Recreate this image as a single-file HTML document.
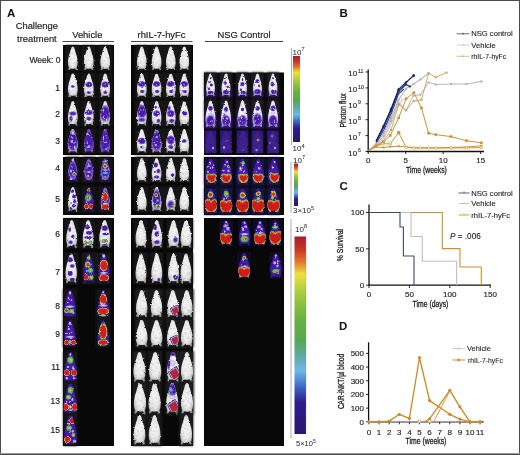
<!DOCTYPE html>
<html><head><meta charset="utf-8"><style>
html,body{margin:0;padding:0;background:#fff;}
body{width:520px;height:455px;position:relative;overflow:hidden;font-family:"Liberation Sans", sans-serif;}
svg text{font-family:"Liberation Sans", sans-serif;}
.frame{position:absolute;left:0;top:0;width:520px;height:455px;box-sizing:border-box;border:1px solid #4a4a4a;}
</style></head><body>
<svg width="520" height="455" viewBox="0 0 520 455" style="position:absolute;left:0;top:0"><defs>
<path id="ms" d="M0,0 C0.9,0 1.6,0.8 1.9,2 C2.4,4 3.4,6.5 4.3,9 C5.1,11.2 5.5,13.5 5.5,16 C5.5,18 5.2,19.6 4.5,20.8 L5.0,23.4 L3.5,23.6 L2.5,21.9 C1.4,22.4 -1.4,22.4 -2.5,21.9 L-3.5,23.6 L-5.0,23.4 L-4.5,20.8 C-5.2,19.6 -5.5,18 -5.5,16 C-5.5,13.5 -5.1,11.2 -4.3,9 C-3.4,6.5 -2.4,4 -1.9,2 C-1.6,0.8 -0.9,0 0,0 Z"/>
<path id="msc" d="M-1.3,0.6 C-0.7,0 0.7,0 1.3,0.6 L3.6,7.5 L5.2,15 L5.6,21.5 C5.6,23.6 -5.6,23.6 -5.6,21.5 L-5.2,15 L-3.6,7.5 Z"/>
<clipPath id="mcc"><path d="M-1.3,0.6 C-0.7,0 0.7,0 1.3,0.6 L3.6,7.5 L5.2,15 L5.6,21.5 C5.6,23.6 -5.6,23.6 -5.6,21.5 L-5.2,15 L-3.6,7.5 Z"/></clipPath>
<path id="hp" vector-effect="non-scaling-stroke" stroke-linejoin="round" d="M0,0.9 C-0.6,0.6 -1,0.2 -1,-0.25 C-1,-0.7 -0.5,-0.9 -0.1,-0.55 L0,-0.42 L0.1,-0.55 C0.5,-0.9 1,-0.7 1,-0.25 C1,0.2 0.6,0.6 0,0.9 Z"/>
<clipPath id="mc"><path d="M0,0 C0.9,0 1.6,0.8 1.9,2 C2.4,4 3.4,6.5 4.3,9 C5.1,11.2 5.5,13.5 5.5,16 C5.5,18 5.2,19.6 4.5,20.8 L5.0,23.4 L3.5,23.6 L2.5,21.9 C1.4,22.4 -1.4,22.4 -2.5,21.9 L-3.5,23.6 L-5.0,23.4 L-4.5,20.8 C-5.2,19.6 -5.5,18 -5.5,16 C-5.5,13.5 -5.1,11.2 -4.3,9 C-3.4,6.5 -2.4,4 -1.9,2 C-1.6,0.8 -0.9,0 0,0 Z"/></clipPath>
<filter id="tex" x="0" y="0" width="520" height="455" filterUnits="userSpaceOnUse">
 <feTurbulence type="fractalNoise" baseFrequency="0.4" numOctaves="2" seed="7" result="n"/>
 <feColorMatrix in="n" type="matrix" values="0.6 0 0 0 0.66  0.6 0 0 0 0.66  0.6 0 0 0 0.66  0 0 0 0 1" result="g"/>
 <feTurbulence type="fractalNoise" baseFrequency="0.45" numOctaves="2" seed="3" result="dn"/>
 <feDisplacementMap in="SourceGraphic" in2="dn" scale="2.2" xChannelSelector="R" yChannelSelector="G" result="d"/>
 <feComposite in="d" in2="g" operator="arithmetic" k1="1" k2="0" k3="0" k4="0" result="c"/>
 <feGaussianBlur in="c" stdDeviation="0.3"/>
</filter>
<filter id="bl" x="0" y="0" width="520" height="455" filterUnits="userSpaceOnUse"><feGaussianBlur stdDeviation="0.9"/></filter>
<radialGradient id="mp" cx="50%" cy="50%" r="60%"><stop offset="0" stop-color="#4a1cae"/><stop offset="0.75" stop-color="#4418a6"/><stop offset="1" stop-color="#34128a"/></radialGradient>
<radialGradient id="mw" cx="50%" cy="45%" r="60%">
 <stop offset="0" stop-color="#f6f6f6"/><stop offset="0.6" stop-color="#ececec"/><stop offset="0.88" stop-color="#cacaca"/><stop offset="1" stop-color="#9a9a9a"/>
</radialGradient>
<radialGradient id="pu"><stop offset="0" stop-color="#4418a8"/><stop offset="0.5" stop-color="#5028b4" stop-opacity="0.9"/><stop offset="0.8" stop-color="#9a80e0" stop-opacity="0.6"/><stop offset="1" stop-color="#d8d0f8" stop-opacity="0"/></radialGradient>
<radialGradient id="ps"><stop offset="0" stop-color="#4a1aac"/><stop offset="0.55" stop-color="#4c1eae"/><stop offset="0.72" stop-color="#6a48c4" stop-opacity="0.95"/><stop offset="0.88" stop-color="#a890e0" stop-opacity="0.7"/><stop offset="1" stop-color="#d8d0f8" stop-opacity="0"/></radialGradient>
<radialGradient id="ht"><stop offset="0" stop-color="#d21e1e"/><stop offset="0.35" stop-color="#dc3020"/><stop offset="0.55" stop-color="#e8c838"/><stop offset="0.7" stop-color="#6cbc48"/><stop offset="0.85" stop-color="#3c8ad8"/><stop offset="1" stop-color="#3a1a96" stop-opacity="0"/></radialGradient>
<radialGradient id="hr"><stop offset="0" stop-color="#d01c1c"/><stop offset="0.7" stop-color="#d82420"/><stop offset="0.82" stop-color="#e89030"/><stop offset="0.9" stop-color="#d8d040"/><stop offset="0.96" stop-color="#50a0d0"/><stop offset="1" stop-color="#3a1a96" stop-opacity="0.2"/></radialGradient>
<radialGradient id="hg"><stop offset="0" stop-color="#e8d040"/><stop offset="0.45" stop-color="#88c040"/><stop offset="0.75" stop-color="#40a870"/><stop offset="1" stop-color="#3a1a96" stop-opacity="0"/></radialGradient>
<radialGradient id="hb"><stop offset="0" stop-color="#80c8f0"/><stop offset="0.6" stop-color="#4890e0"/><stop offset="1" stop-color="#3a1a96" stop-opacity="0"/></radialGradient>
<radialGradient id="lw"><stop offset="0" stop-color="#ece6fc"/><stop offset="0.5" stop-color="#c8b8f0" stop-opacity="0.85"/><stop offset="1" stop-color="#9a80e0" stop-opacity="0"/></radialGradient>
<linearGradient id="cg1" x1="0" y1="0" x2="0" y2="1"><stop offset="0" stop-color="#1e1e1e"/><stop offset="0.6" stop-color="#1e1c24"/><stop offset="1" stop-color="#2c1868"/></linearGradient>
<linearGradient id="cg2" x1="0" y1="0" x2="0" y2="1"><stop offset="0" stop-color="#1e1e1e"/><stop offset="0.4" stop-color="#201c2c"/><stop offset="0.6" stop-color="#2e1878"/><stop offset="1" stop-color="#3a1a90"/></linearGradient>
<linearGradient id="cellp" x1="0" y1="0" x2="0" y2="1"><stop offset="0" stop-color="#321880"/><stop offset="1" stop-color="#361a86"/></linearGradient>
<linearGradient id="cb" x1="0" y1="0" x2="0" y2="1">
 <stop offset="0" stop-color="#a81c2a"/><stop offset="0.07" stop-color="#c83a28"/><stop offset="0.13" stop-color="#e07a30"/><stop offset="0.19" stop-color="#ece040"/>
 <stop offset="0.3" stop-color="#a0c840"/><stop offset="0.42" stop-color="#68b040"/><stop offset="0.52" stop-color="#58a850"/><stop offset="0.6" stop-color="#60a8a0"/>
 <stop offset="0.68" stop-color="#70b8e8"/><stop offset="0.76" stop-color="#4068c8"/><stop offset="0.84" stop-color="#2c1c8c"/><stop offset="1" stop-color="#2a1670"/>
</linearGradient>
</defs><rect x="63" y="45" width="51" height="110" fill="#080808"/><rect x="63" y="157" width="51" height="58" fill="#080808"/><rect x="63" y="218" width="51" height="228" fill="#080808"/><rect x="131" y="45" width="62" height="110" fill="#080808"/><rect x="131" y="157" width="62" height="58" fill="#080808"/><rect x="131" y="218" width="62" height="228" fill="#080808"/><rect x="204" y="72.5" width="80" height="82.5" fill="#080808"/><rect x="204" y="157" width="80" height="58" fill="#080808"/><rect x="204" y="218" width="80" height="228" fill="#080808"/><g filter="url(#bl)"><rect x="65.7" y="45.3" width="14.2" height="26.0" fill="#151515"/><rect x="81.7" y="45.3" width="14.2" height="26.0" fill="#151515"/><rect x="98.1" y="45.3" width="14.2" height="26.0" fill="#151515"/><rect x="65.7" y="72.3" width="14.2" height="26.0" fill="#151515"/><rect x="81.7" y="72.3" width="14.2" height="26.0" fill="#151515"/><rect x="98.1" y="72.3" width="14.2" height="26.0" fill="#151515"/><rect x="65.7" y="99.8" width="14.2" height="27.0" fill="#151515"/><rect x="81.7" y="99.8" width="14.2" height="27.0" fill="#151515"/><rect x="98.1" y="99.8" width="14.2" height="27.0" fill="#151515"/><rect x="65.7" y="127.8" width="14.2" height="26.0" fill="#151515"/><rect x="81.7" y="127.8" width="14.2" height="26.0" fill="#151515"/><rect x="98.1" y="127.8" width="14.2" height="26.0" fill="#151515"/><rect x="65.7" y="156.8" width="14.2" height="26.0" fill="#151515"/><rect x="81.7" y="156.8" width="14.2" height="26.0" fill="#151515"/><rect x="98.1" y="156.8" width="14.2" height="26.0" fill="#151515"/><rect x="65.7" y="185.8" width="14.2" height="26.5" fill="#151515"/><rect x="81.7" y="185.8" width="14.2" height="26.5" fill="#151515"/><rect x="98.1" y="185.8" width="14.2" height="26.5" fill="#151515"/><rect x="64.6" y="218.8" width="14.2" height="30.0" fill="#151515"/><rect x="81.1" y="218.8" width="14.2" height="30.0" fill="#151515"/><rect x="97.6" y="218.8" width="14.2" height="30.0" fill="#151515"/><rect x="64.1" y="252.3" width="14.2" height="32.0" fill="#151515"/><rect x="81.7" y="252.3" width="14.2" height="32.0" fill="#151515"/><rect x="96.7" y="252.3" width="14.2" height="32.0" fill="#151515"/><rect x="62.9" y="288.8" width="14.2" height="29.5" fill="#151515"/><rect x="96.1" y="288.8" width="14.2" height="29.5" fill="#151515"/><rect x="62.9" y="318.8" width="14.2" height="29.0" fill="#151515"/><rect x="96.1" y="318.8" width="14.2" height="29.0" fill="#151515"/><rect x="63.3" y="350.8" width="14.2" height="32.0" fill="#151515"/><rect x="63.3" y="381.8" width="14.2" height="33.0" fill="#151515"/><rect x="63.3" y="413.8" width="14.2" height="32.0" fill="#151515"/><rect x="135.1" y="45.3" width="13.5" height="26.0" fill="#151515"/><rect x="149.8" y="45.3" width="13.5" height="26.0" fill="#151515"/><rect x="164.1" y="45.3" width="13.5" height="26.0" fill="#151515"/><rect x="177.6" y="45.3" width="13.5" height="26.0" fill="#151515"/><rect x="135.1" y="72.3" width="13.5" height="26.0" fill="#151515"/><rect x="149.8" y="72.3" width="13.5" height="26.0" fill="#151515"/><rect x="164.1" y="72.3" width="13.5" height="26.0" fill="#151515"/><rect x="177.6" y="72.3" width="13.5" height="26.0" fill="#151515"/><rect x="135.1" y="99.8" width="13.5" height="27.0" fill="#151515"/><rect x="149.8" y="99.8" width="13.5" height="27.0" fill="#151515"/><rect x="164.1" y="99.8" width="13.5" height="27.0" fill="#151515"/><rect x="177.6" y="99.8" width="13.5" height="27.0" fill="#151515"/><rect x="135.1" y="127.8" width="13.5" height="26.0" fill="#151515"/><rect x="149.8" y="127.8" width="13.5" height="26.0" fill="#151515"/><rect x="164.1" y="127.8" width="13.5" height="26.0" fill="#151515"/><rect x="177.6" y="127.8" width="13.5" height="26.0" fill="#151515"/><rect x="135.1" y="156.8" width="13.5" height="26.0" fill="#151515"/><rect x="149.8" y="156.8" width="13.5" height="26.0" fill="#151515"/><rect x="164.1" y="156.8" width="13.5" height="26.0" fill="#151515"/><rect x="177.6" y="156.8" width="13.5" height="26.0" fill="#151515"/><rect x="135.1" y="185.8" width="13.5" height="26.5" fill="#151515"/><rect x="149.8" y="185.8" width="13.5" height="26.5" fill="#151515"/><rect x="164.1" y="185.8" width="13.5" height="26.5" fill="#151515"/><rect x="177.6" y="185.8" width="13.5" height="26.5" fill="#151515"/><rect x="134.0" y="218.8" width="14.0" height="30.0" fill="#151515"/><rect x="149.8" y="218.8" width="14.0" height="30.0" fill="#151515"/><rect x="166.5" y="218.8" width="14.0" height="30.0" fill="#151515"/><rect x="179.0" y="218.8" width="14.0" height="30.0" fill="#151515"/><rect x="134.0" y="252.3" width="14.0" height="32.0" fill="#151515"/><rect x="149.8" y="252.3" width="14.0" height="32.0" fill="#151515"/><rect x="166.5" y="252.3" width="14.0" height="32.0" fill="#151515"/><rect x="179.0" y="252.3" width="14.0" height="32.0" fill="#151515"/><rect x="134.7" y="288.8" width="14.0" height="29.5" fill="#1c1c1c"/><rect x="149.5" y="288.8" width="14.0" height="29.5" fill="#1c1c1c"/><rect x="165.8" y="288.8" width="14.0" height="29.5" fill="#1c1c1c"/><rect x="179.8" y="288.8" width="14.0" height="29.5" fill="#1c1c1c"/><rect x="134.7" y="318.8" width="14.0" height="29.0" fill="#1c1c1c"/><rect x="149.5" y="318.8" width="14.0" height="29.0" fill="#1c1c1c"/><rect x="165.8" y="318.8" width="14.0" height="29.0" fill="#1c1c1c"/><rect x="179.8" y="318.8" width="14.0" height="29.0" fill="#1c1c1c"/><rect x="132.5" y="350.8" width="14.0" height="32.0" fill="#1c1c1c"/><rect x="148.2" y="350.8" width="14.0" height="32.0" fill="#1c1c1c"/><rect x="166.0" y="350.8" width="14.0" height="32.0" fill="#1c1c1c"/><rect x="180.0" y="350.8" width="14.0" height="32.0" fill="#1c1c1c"/><rect x="133.0" y="381.8" width="14.0" height="33.0" fill="#1c1c1c"/><rect x="147.6" y="381.8" width="14.0" height="33.0" fill="#1c1c1c"/><rect x="165.2" y="381.8" width="14.0" height="33.0" fill="#1c1c1c"/><rect x="180.0" y="381.8" width="14.0" height="33.0" fill="#1c1c1c"/><rect x="132.5" y="413.8" width="14.0" height="32.0" fill="#1c1c1c"/><rect x="147.6" y="413.8" width="14.0" height="32.0" fill="#1c1c1c"/><rect x="179.2" y="413.8" width="14.0" height="32.0" fill="#1c1c1c"/><rect x="204.2" y="72.3" width="12.5" height="25.0" fill="url(#cg1)"/><rect x="204.2" y="99.3" width="12.5" height="29.0" fill="url(#cg2)"/><rect x="219.8" y="72.3" width="12.5" height="25.0" fill="url(#cg1)"/><rect x="219.8" y="99.3" width="12.5" height="29.0" fill="url(#cg2)"/><rect x="236.2" y="72.3" width="12.5" height="25.0" fill="url(#cg1)"/><rect x="236.2" y="99.3" width="12.5" height="29.0" fill="url(#cg2)"/><rect x="251.2" y="72.3" width="12.5" height="25.0" fill="url(#cg1)"/><rect x="251.2" y="99.3" width="12.5" height="29.0" fill="url(#cg2)"/><rect x="266.8" y="72.3" width="12.5" height="25.0" fill="url(#cg1)"/><rect x="266.8" y="99.3" width="12.5" height="29.0" fill="url(#cg2)"/><rect x="204.2" y="157.6" width="13.5" height="28.0" fill="#16123a"/><rect x="204.2" y="187.2" width="13.5" height="27.4" fill="#16123a"/><rect x="219.4" y="157.6" width="13.5" height="28.0" fill="#16123a"/><rect x="219.4" y="187.2" width="13.5" height="27.4" fill="#16123a"/><rect x="235.8" y="157.6" width="13.5" height="28.0" fill="#16123a"/><rect x="235.8" y="187.2" width="13.5" height="27.4" fill="#16123a"/><rect x="251.4" y="157.6" width="13.5" height="28.0" fill="#16123a"/><rect x="251.4" y="187.2" width="13.5" height="27.4" fill="#16123a"/><rect x="266.9" y="157.6" width="13.5" height="28.0" fill="#16123a"/><rect x="266.9" y="187.2" width="13.5" height="27.4" fill="#16123a"/><rect x="219.4" y="219.4" width="13.5" height="27.0" fill="#0e0c22"/><rect x="237.8" y="219.4" width="13.5" height="27.0" fill="#0e0c22"/><rect x="253.2" y="219.4" width="13.5" height="27.0" fill="#0e0c22"/><rect x="268.6" y="219.4" width="13.5" height="27.0" fill="#0e0c22"/><rect x="237.4" y="251.8" width="13.5" height="27.0" fill="#0e0c22"/><rect x="269.1" y="252.3" width="13.5" height="27.0" fill="#0e0c22"/></g><g filter="url(#tex)" ><g transform="translate(72.8,46.5) scale(0.891,1.000)"><use href="#ms" fill="url(#mw)"/></g><g transform="translate(88.8,46.5) scale(0.891,1.000)"><use href="#ms" fill="url(#mw)"/></g><g transform="translate(105.2,46.5) scale(0.891,1.000)"><use href="#ms" fill="url(#mw)"/></g><g transform="translate(72.8,73.5) scale(0.891,1.000)"><use href="#ms" fill="url(#mw)"/><g clip-path="url(#mc)"><ellipse cx="0" cy="13" rx="2.86" ry="1.69" fill="url(#pu)"/></g></g><g transform="translate(88.8,73.5) scale(0.891,1.000)"><use href="#ms" fill="url(#mw)"/><g clip-path="url(#mc)"><ellipse cx="0" cy="11" rx="4.68" ry="3.38" fill="url(#ps)"/><ellipse cx="-2.08" cy="9.54" rx="1.06" ry="1.44" fill="url(#lw)" opacity="0.73"/><ellipse cx="0.50" cy="10.81" rx="0.83" ry="1.12" fill="url(#lw)" opacity="0.69"/><ellipse cx="0.68" cy="10.65" rx="0.83" ry="0.72" fill="url(#lw)" opacity="0.64"/><ellipse cx="0" cy="19" rx="3.25" ry="1.95" fill="url(#pu)"/></g></g><g transform="translate(105.2,73.5) scale(0.891,1.000)"><use href="#ms" fill="url(#mw)"/><g clip-path="url(#mc)"><ellipse cx="0" cy="11" rx="4.94" ry="3.64" fill="url(#ps)"/><ellipse cx="-0.48" cy="10.82" rx="0.65" ry="0.58" fill="url(#lw)" opacity="0.81"/><ellipse cx="0.10" cy="10.23" rx="1.06" ry="0.84" fill="url(#lw)" opacity="0.68"/><ellipse cx="0.35" cy="11.26" rx="1.11" ry="0.94" fill="url(#lw)" opacity="0.50"/><ellipse cx="0" cy="19" rx="3.25" ry="1.95" fill="url(#pu)"/></g></g><g transform="translate(72.8,101) scale(0.891,1.042)"><use href="#ms" fill="url(#mw)"/><g clip-path="url(#mc)"><ellipse cx="0" cy="12" rx="5.85" ry="2.6" fill="url(#pu)"/><ellipse cx="-2" cy="17" rx="2.6" ry="3.9" fill="url(#pu)"/></g></g><g transform="translate(88.8,101) scale(0.891,1.042)"><use href="#ms" fill="url(#mw)"/><g clip-path="url(#mc)"><ellipse cx="0" cy="11" rx="5.85" ry="2.86" fill="url(#ps)"/><ellipse cx="4.13" cy="10.78" rx="0.70" ry="0.96" fill="url(#lw)" opacity="0.64"/><ellipse cx="-0.62" cy="10.37" rx="1.16" ry="1.37" fill="url(#lw)" opacity="0.83"/><ellipse cx="1.42" cy="10.45" rx="0.75" ry="0.61" fill="url(#lw)" opacity="0.47"/><ellipse cx="0" cy="17" rx="3.9" ry="2.6" fill="url(#pu)"/></g></g><g transform="translate(105.2,101) scale(0.891,1.042)"><use href="#ms" fill="url(#mw)"/><g clip-path="url(#mc)"><ellipse cx="0" cy="12" rx="7.15" ry="9.1" fill="url(#ps)"/><ellipse cx="2.04" cy="13.13" rx="0.92" ry="0.65" fill="url(#lw)" opacity="0.71"/><ellipse cx="-1.19" cy="14.46" rx="1.07" ry="1.11" fill="url(#lw)" opacity="0.54"/><ellipse cx="-4.21" cy="12.64" rx="0.54" ry="0.75" fill="url(#lw)" opacity="0.41"/><ellipse cx="-0.01" cy="5.71" rx="0.51" ry="0.64" fill="url(#lw)" opacity="0.56"/><ellipse cx="-0.67" cy="11.54" rx="0.53" ry="0.44" fill="url(#lw)" opacity="0.83"/><ellipse cx="1.48" cy="17.40" rx="1.15" ry="1.56" fill="url(#lw)" opacity="0.55"/><ellipse cx="-2.04" cy="15.36" rx="1.04" ry="0.81" fill="url(#lw)" opacity="0.74"/><ellipse cx="1.47" cy="5.89" rx="0.53" ry="0.72" fill="url(#lw)" opacity="0.44"/><ellipse cx="-2.04" cy="16.04" rx="1.14" ry="1.07" fill="url(#lw)" opacity="0.82"/><ellipse cx="-2.19" cy="11.19" rx="0.72" ry="0.59" fill="url(#lw)" opacity="0.44"/><ellipse cx="2.47" cy="16.27" rx="1.20" ry="0.97" fill="url(#lw)" opacity="0.42"/><ellipse cx="3.37" cy="11.64" rx="0.78" ry="0.68" fill="url(#lw)" opacity="0.67"/><ellipse cx="1.38" cy="8.62" rx="0.80" ry="0.59" fill="url(#lw)" opacity="0.81"/><ellipse cx="-2" cy="9" rx="1.5" ry="1.5" fill="url(#lw)"/><ellipse cx="1.5" cy="18" rx="1.5" ry="1.5" fill="url(#lw)"/></g></g><g transform="translate(72.8,129) scale(0.891,1.000)"><use href="#ms" fill="url(#mw)"/><g clip-path="url(#mc)"><ellipse cx="0" cy="12" rx="7.15" ry="12.35" fill="url(#ps)"/><ellipse cx="3.12" cy="13.12" rx="1.09" ry="0.86" fill="url(#lw)" opacity="0.73"/><ellipse cx="3.68" cy="9.93" rx="1.05" ry="0.81" fill="url(#lw)" opacity="0.60"/><ellipse cx="2.92" cy="18.88" rx="0.71" ry="0.72" fill="url(#lw)" opacity="0.85"/><ellipse cx="3.35" cy="4.26" rx="0.82" ry="0.85" fill="url(#lw)" opacity="0.73"/><ellipse cx="-2.15" cy="12.49" rx="0.78" ry="0.63" fill="url(#lw)" opacity="0.57"/><ellipse cx="5.50" cy="11.30" rx="0.94" ry="0.99" fill="url(#lw)" opacity="0.55"/><ellipse cx="1.76" cy="13.91" rx="1.05" ry="1.37" fill="url(#lw)" opacity="0.56"/><ellipse cx="1.03" cy="4.27" rx="0.99" ry="1.15" fill="url(#lw)" opacity="0.74"/><ellipse cx="-2.77" cy="17.54" rx="0.70" ry="0.72" fill="url(#lw)" opacity="0.75"/><ellipse cx="-0.79" cy="8.48" rx="1.16" ry="1.34" fill="url(#lw)" opacity="0.66"/><ellipse cx="3.44" cy="12.43" rx="0.68" ry="0.79" fill="url(#lw)" opacity="0.61"/><ellipse cx="1.61" cy="5.76" rx="1.06" ry="1.00" fill="url(#lw)" opacity="0.69"/><ellipse cx="-0.37" cy="3.63" rx="0.75" ry="0.96" fill="url(#lw)" opacity="0.79"/><ellipse cx="-2.12" cy="3.04" rx="1.17" ry="1.24" fill="url(#lw)" opacity="0.64"/><ellipse cx="2.46" cy="19.32" rx="1.16" ry="1.20" fill="url(#lw)" opacity="0.71"/><ellipse cx="-0.83" cy="4.59" rx="0.62" ry="0.77" fill="url(#lw)" opacity="0.66"/><ellipse cx="-1.43" cy="7.80" rx="0.94" ry="1.16" fill="url(#lw)" opacity="0.69"/><ellipse cx="0" cy="4" rx="2" ry="2.5" fill="url(#lw)"/><ellipse cx="-1" cy="12" rx="2" ry="1.5" fill="url(#lw)"/><ellipse cx="2" cy="18" rx="1.5" ry="2" fill="url(#lw)"/></g></g><g transform="translate(88.8,129) scale(0.891,1.000)"><use href="#ms" fill="url(#mp)"/><g clip-path="url(#mc)"><ellipse cx="0.63" cy="7.28" rx="1.04" ry="0.73" fill="url(#lw)"/><ellipse cx="-3.25" cy="11.38" rx="0.73" ry="0.82" fill="url(#lw)"/><ellipse cx="-2.57" cy="8.71" rx="0.61" ry="0.51" fill="url(#lw)"/><ellipse cx="-3.21" cy="11.49" rx="0.64" ry="0.47" fill="url(#lw)"/><ellipse cx="1.05" cy="6.94" rx="0.91" ry="1.04" fill="url(#lw)"/><ellipse cx="1.54" cy="3.5" rx="0.6" ry="0.6" fill="url(#lw)"/><ellipse cx="0" cy="12" rx="7.15" ry="14.3" fill="url(#ps)"/><ellipse cx="-1.75" cy="14.36" rx="0.79" ry="0.61" fill="url(#lw)" opacity="0.77"/><ellipse cx="-0.63" cy="13.28" rx="0.93" ry="0.71" fill="url(#lw)" opacity="0.65"/><ellipse cx="-1.93" cy="18.13" rx="1.17" ry="1.49" fill="url(#lw)" opacity="0.59"/><ellipse cx="1.51" cy="4.75" rx="0.76" ry="0.61" fill="url(#lw)" opacity="0.67"/><ellipse cx="-5.07" cy="7.70" rx="1.18" ry="1.33" fill="url(#lw)" opacity="0.56"/><ellipse cx="0.56" cy="11.11" rx="0.58" ry="0.63" fill="url(#lw)" opacity="0.68"/><ellipse cx="2.45" cy="17.98" rx="1.12" ry="1.08" fill="url(#lw)" opacity="0.59"/><ellipse cx="0.32" cy="16.30" rx="1.18" ry="1.14" fill="url(#lw)" opacity="0.83"/><ellipse cx="3.17" cy="8.19" rx="0.68" ry="0.95" fill="url(#lw)" opacity="0.62"/><ellipse cx="-1.99" cy="14.34" rx="1.19" ry="1.24" fill="url(#lw)" opacity="0.53"/><ellipse cx="-1.31" cy="12.38" rx="0.94" ry="0.94" fill="url(#lw)" opacity="0.53"/><ellipse cx="0.96" cy="2.49" rx="0.51" ry="0.55" fill="url(#lw)" opacity="0.52"/><ellipse cx="4.25" cy="8.34" rx="0.67" ry="0.60" fill="url(#lw)" opacity="0.47"/><ellipse cx="2.18" cy="11.69" rx="0.93" ry="0.96" fill="url(#lw)" opacity="0.69"/><ellipse cx="-3.52" cy="6.61" rx="0.58" ry="0.72" fill="url(#lw)" opacity="0.54"/><ellipse cx="-2.34" cy="11.00" rx="0.71" ry="0.76" fill="url(#lw)" opacity="0.61"/><ellipse cx="-2.85" cy="18.81" rx="0.91" ry="0.66" fill="url(#lw)" opacity="0.51"/><ellipse cx="-5.10" cy="14.92" rx="1.12" ry="1.21" fill="url(#lw)" opacity="0.41"/><ellipse cx="0.51" cy="6.38" rx="0.90" ry="1.08" fill="url(#lw)" opacity="0.68"/><ellipse cx="-5.24" cy="13.20" rx="0.77" ry="0.75" fill="url(#lw)" opacity="0.78"/><ellipse cx="-2" cy="5" rx="1.5" ry="2" fill="url(#lw)"/><ellipse cx="0" cy="18" rx="2" ry="1.2" fill="url(#lw)"/></g></g><g transform="translate(105.2,129) scale(0.891,1.000)"><use href="#ms" fill="url(#mp)"/><g clip-path="url(#mc)"><ellipse cx="2.24" cy="17.25" rx="0.9" ry="0.64" fill="url(#lw)"/><ellipse cx="0.6" cy="17.61" rx="0.54" ry="0.47" fill="url(#lw)"/><ellipse cx="0.34" cy="11.96" rx="0.7" ry="0.56" fill="url(#lw)"/><ellipse cx="1.97" cy="19.39" rx="0.59" ry="0.61" fill="url(#lw)"/><ellipse cx="2.35" cy="15.5" rx="0.76" ry="0.68" fill="url(#lw)"/><ellipse cx="-2.12" cy="8.34" rx="1.0" ry="0.74" fill="url(#lw)"/><ellipse cx="0" cy="12" rx="7.15" ry="14.3" fill="url(#ps)"/><ellipse cx="-0.96" cy="0.94" rx="1.20" ry="1.43" fill="url(#lw)" opacity="0.42"/><ellipse cx="0.99" cy="8.96" rx="0.95" ry="1.30" fill="url(#lw)" opacity="0.72"/><ellipse cx="1.44" cy="15.26" rx="1.14" ry="0.92" fill="url(#lw)" opacity="0.67"/><ellipse cx="-1.30" cy="13.57" rx="0.94" ry="0.68" fill="url(#lw)" opacity="0.45"/><ellipse cx="-0.78" cy="13.48" rx="0.54" ry="0.60" fill="url(#lw)" opacity="0.73"/><ellipse cx="1.00" cy="10.08" rx="0.80" ry="0.74" fill="url(#lw)" opacity="0.67"/><ellipse cx="-5.40" cy="12.71" rx="0.76" ry="0.56" fill="url(#lw)" opacity="0.71"/><ellipse cx="2.26" cy="18.30" rx="0.85" ry="1.14" fill="url(#lw)" opacity="0.65"/><ellipse cx="-1.47" cy="9.20" rx="0.89" ry="0.78" fill="url(#lw)" opacity="0.74"/><ellipse cx="-1.38" cy="11.71" rx="0.66" ry="0.64" fill="url(#lw)" opacity="0.73"/><ellipse cx="1.84" cy="19.74" rx="0.96" ry="0.73" fill="url(#lw)" opacity="0.70"/><ellipse cx="1.13" cy="13.45" rx="0.92" ry="0.79" fill="url(#lw)" opacity="0.79"/><ellipse cx="-2.32" cy="12.57" rx="1.06" ry="0.76" fill="url(#lw)" opacity="0.73"/><ellipse cx="1.39" cy="12.97" rx="1.17" ry="1.37" fill="url(#lw)" opacity="0.50"/><ellipse cx="4.16" cy="19.44" rx="0.97" ry="1.23" fill="url(#lw)" opacity="0.46"/><ellipse cx="-1.76" cy="8.49" rx="0.66" ry="0.62" fill="url(#lw)" opacity="0.68"/><ellipse cx="-1.54" cy="16.31" rx="0.60" ry="0.76" fill="url(#lw)" opacity="0.69"/><ellipse cx="0.97" cy="6.57" rx="1.10" ry="1.16" fill="url(#lw)" opacity="0.67"/><ellipse cx="-3.96" cy="8.07" rx="0.78" ry="0.60" fill="url(#lw)" opacity="0.41"/><ellipse cx="0.27" cy="13.74" rx="1.12" ry="1.16" fill="url(#lw)" opacity="0.74"/><ellipse cx="-2" cy="9" rx="1" ry="3" fill="url(#lw)"/><ellipse cx="1" cy="20" rx="2" ry="1" fill="url(#lw)"/></g></g><g transform="translate(72.8,158) scale(0.891,1.000)"><use href="#ms" fill="url(#mp)"/><g clip-path="url(#mc)"><ellipse cx="2.97" cy="9.64" rx="1.06" ry="1.26" fill="url(#lw)"/><ellipse cx="-1.49" cy="7.23" rx="0.79" ry="0.57" fill="url(#lw)"/><ellipse cx="-2.44" cy="7.57" rx="0.67" ry="0.54" fill="url(#lw)"/><ellipse cx="-2.39" cy="9.74" rx="0.73" ry="0.96" fill="url(#lw)"/><ellipse cx="-0.5" cy="11.38" rx="0.56" ry="0.45" fill="url(#lw)"/><ellipse cx="-3.5" cy="11.46" rx="1.03" ry="1.17" fill="url(#lw)"/><ellipse cx="0" cy="12" rx="5.5" ry="10" fill="url(#ps)"/><ellipse cx="-1.09" cy="8.18" rx="1.16" ry="0.91" fill="url(#lw)" opacity="0.70"/><ellipse cx="-0.80" cy="17.53" rx="1.01" ry="0.82" fill="url(#lw)" opacity="0.49"/><ellipse cx="1.42" cy="12.41" rx="0.55" ry="0.54" fill="url(#lw)" opacity="0.84"/><ellipse cx="-1.15" cy="14.40" rx="0.83" ry="0.74" fill="url(#lw)" opacity="0.73"/><ellipse cx="-0.24" cy="9.90" rx="0.67" ry="0.78" fill="url(#lw)" opacity="0.82"/><ellipse cx="-1.34" cy="8.81" rx="1.18" ry="0.83" fill="url(#lw)" opacity="0.43"/><ellipse cx="0.39" cy="8.19" rx="0.53" ry="0.58" fill="url(#lw)" opacity="0.85"/><ellipse cx="-1.88" cy="11.59" rx="0.57" ry="0.42" fill="url(#lw)" opacity="0.80"/><ellipse cx="-4.15" cy="12.42" rx="0.54" ry="0.47" fill="url(#lw)" opacity="0.42"/><ellipse cx="-0.62" cy="12.85" rx="0.68" ry="0.67" fill="url(#lw)" opacity="0.54"/><ellipse cx="0.66" cy="12.40" rx="1.18" ry="0.97" fill="url(#lw)" opacity="0.63"/><ellipse cx="0" cy="2" rx="2" ry="2" fill="url(#lw)"/><ellipse cx="-2" cy="13" rx="1.5" ry="2" fill="url(#lw)"/><ellipse cx="1.5" cy="16" rx="2.5" ry="2.5" fill="url(#ht)"/><ellipse cx="-2" cy="21" rx="2" ry="1.5" fill="url(#lw)"/></g></g><g transform="translate(88.8,158) scale(0.891,1.000)"><use href="#ms" fill="url(#mp)"/><g clip-path="url(#mc)"><ellipse cx="2.28" cy="7.03" rx="0.57" ry="0.52" fill="url(#lw)"/><ellipse cx="1.58" cy="19.43" rx="0.68" ry="0.69" fill="url(#lw)"/><ellipse cx="-0.09" cy="13.29" rx="0.73" ry="0.83" fill="url(#lw)"/><ellipse cx="2.5" cy="6.86" rx="0.51" ry="0.55" fill="url(#lw)"/><ellipse cx="-2.74" cy="12.75" rx="1.05" ry="1.18" fill="url(#lw)"/><ellipse cx="-0.68" cy="12.56" rx="0.55" ry="0.51" fill="url(#lw)"/><ellipse cx="0" cy="12" rx="5.5" ry="11" fill="url(#ps)"/><ellipse cx="3.00" cy="15.69" rx="1.07" ry="0.99" fill="url(#lw)" opacity="0.46"/><ellipse cx="1.30" cy="13.47" rx="0.56" ry="0.56" fill="url(#lw)" opacity="0.66"/><ellipse cx="0.02" cy="13.57" rx="0.99" ry="0.73" fill="url(#lw)" opacity="0.49"/><ellipse cx="-0.45" cy="15.88" rx="0.57" ry="0.57" fill="url(#lw)" opacity="0.54"/><ellipse cx="0.04" cy="6.62" rx="1.13" ry="1.31" fill="url(#lw)" opacity="0.74"/><ellipse cx="-2.01" cy="9.96" rx="1.07" ry="1.24" fill="url(#lw)" opacity="0.83"/><ellipse cx="-0.45" cy="5.56" rx="0.69" ry="0.87" fill="url(#lw)" opacity="0.57"/><ellipse cx="0.55" cy="13.17" rx="0.62" ry="0.55" fill="url(#lw)" opacity="0.70"/><ellipse cx="-0.18" cy="13.55" rx="1.03" ry="1.13" fill="url(#lw)" opacity="0.41"/><ellipse cx="1.00" cy="12.66" rx="0.75" ry="0.98" fill="url(#lw)" opacity="0.83"/><ellipse cx="-1.10" cy="10.14" rx="0.80" ry="0.76" fill="url(#lw)" opacity="0.55"/><ellipse cx="2.79" cy="12.44" rx="1.08" ry="1.30" fill="url(#lw)" opacity="0.44"/><ellipse cx="0" cy="8" rx="4" ry="1" fill="url(#lw)"/><ellipse cx="0" cy="14" rx="4" ry="1" fill="url(#lw)"/><ellipse cx="-1" cy="18" rx="1.5" ry="1.5" fill="url(#ht)"/><ellipse cx="2" cy="20" rx="1.5" ry="1.5" fill="url(#ht)"/></g></g><g transform="translate(105.2,158) scale(0.891,1.000)"><use href="#ms" fill="url(#mp)"/><g clip-path="url(#mc)"><ellipse cx="-3.13" cy="20.6" rx="0.52" ry="0.57" fill="url(#lw)"/><ellipse cx="0.67" cy="4.86" rx="0.99" ry="0.98" fill="url(#lw)"/><ellipse cx="1.87" cy="19.85" rx="0.82" ry="1.13" fill="url(#lw)"/><ellipse cx="2.9" cy="11.3" rx="0.76" ry="0.77" fill="url(#lw)"/><ellipse cx="3.07" cy="17.31" rx="0.57" ry="0.53" fill="url(#lw)"/><ellipse cx="0.21" cy="6.08" rx="0.93" ry="0.94" fill="url(#lw)"/><ellipse cx="0" cy="12" rx="5.5" ry="11" fill="url(#ps)"/><ellipse cx="-3.92" cy="12.89" rx="0.77" ry="0.66" fill="url(#lw)" opacity="0.52"/><ellipse cx="0.82" cy="17.18" rx="0.75" ry="0.92" fill="url(#lw)" opacity="0.51"/><ellipse cx="-0.90" cy="14.42" rx="1.19" ry="1.53" fill="url(#lw)" opacity="0.78"/><ellipse cx="-1.54" cy="9.17" rx="0.60" ry="0.77" fill="url(#lw)" opacity="0.62"/><ellipse cx="1.17" cy="12.57" rx="0.57" ry="0.68" fill="url(#lw)" opacity="0.81"/><ellipse cx="1.13" cy="18.87" rx="0.73" ry="0.86" fill="url(#lw)" opacity="0.79"/><ellipse cx="-2.60" cy="6.93" rx="0.76" ry="0.54" fill="url(#lw)" opacity="0.63"/><ellipse cx="-1.08" cy="10.69" rx="0.77" ry="0.71" fill="url(#lw)" opacity="0.41"/><ellipse cx="-0.77" cy="15.74" rx="0.83" ry="0.99" fill="url(#lw)" opacity="0.58"/><ellipse cx="3.67" cy="11.18" rx="1.15" ry="1.36" fill="url(#lw)" opacity="0.70"/><ellipse cx="-3.53" cy="10.34" rx="0.75" ry="0.84" fill="url(#lw)" opacity="0.71"/><ellipse cx="-1.63" cy="11.54" rx="0.55" ry="0.42" fill="url(#lw)" opacity="0.56"/><ellipse cx="0" cy="8" rx="3" ry="3.2" fill="url(#ht)"/><ellipse cx="0" cy="3" rx="2" ry="1.5" fill="url(#lw)"/><ellipse cx="0" cy="15" rx="5" ry="1.5" fill="url(#hb)"/><ellipse cx="0" cy="12" rx="4" ry="1" fill="url(#lw)"/><ellipse cx="0" cy="19" rx="2" ry="1" fill="url(#hg)"/></g></g><g transform="translate(72.8,187) scale(0.891,1.021)"><use href="#ms" fill="url(#mw)"/><g clip-path="url(#mc)"><ellipse cx="0" cy="4" rx="2" ry="2" fill="url(#ps)"/><ellipse cx="1.5" cy="9" rx="3" ry="2.5" fill="url(#ps)"/><ellipse cx="-0.16" cy="8.24" rx="1.00" ry="0.91" fill="url(#lw)" opacity="0.82"/><ellipse cx="2" cy="14" rx="2.5" ry="3" fill="url(#pu)"/><ellipse cx="1" cy="18.5" rx="2.5" ry="2" fill="url(#ps)"/><ellipse cx="-2" cy="21" rx="2" ry="1.5" fill="url(#pu)"/><ellipse cx="-2" cy="16" rx="1.2" ry="1.2" fill="url(#hg)"/></g></g><g transform="translate(88.8,187) scale(0.891,1.021)"><use href="#ms" fill="url(#mp)"/><g clip-path="url(#mc)"><ellipse cx="-2.25" cy="14.76" rx="1.04" ry="1.39" fill="url(#lw)"/><ellipse cx="0.31" cy="10.08" rx="0.5" ry="0.49" fill="url(#lw)"/><ellipse cx="0.12" cy="19.13" rx="0.64" ry="0.89" fill="url(#lw)"/><ellipse cx="2.37" cy="16.3" rx="0.87" ry="0.73" fill="url(#lw)"/><ellipse cx="1.19" cy="20.22" rx="1.04" ry="1.23" fill="url(#lw)"/><ellipse cx="-1.58" cy="15.89" rx="0.54" ry="0.67" fill="url(#lw)"/><ellipse cx="0" cy="3" rx="2.2" ry="2.2" fill="url(#ht)"/><ellipse cx="-0.5" cy="10.5" rx="4.4" ry="4.4" fill="url(#hg)"/><ellipse cx="-0.5" cy="10.5" rx="2.6" ry="2.6" fill="url(#ht)"/><ellipse cx="-2.5" cy="19" rx="2.8" ry="2.6" fill="url(#hr)"/><ellipse cx="2.5" cy="19" rx="2.8" ry="2.6" fill="url(#hr)"/></g></g><g transform="translate(105.2,187) scale(0.891,1.021)"><use href="#ms" fill="url(#mp)"/><g clip-path="url(#mc)"><ellipse cx="2.65" cy="16.1" rx="0.75" ry="0.75" fill="url(#lw)"/><ellipse cx="-1.93" cy="4.13" rx="0.84" ry="1.08" fill="url(#lw)"/><ellipse cx="2.78" cy="6.01" rx="0.88" ry="1.09" fill="url(#lw)"/><ellipse cx="-2.01" cy="8.5" rx="0.66" ry="0.75" fill="url(#lw)"/><ellipse cx="0.37" cy="15.87" rx="0.72" ry="0.96" fill="url(#lw)"/><ellipse cx="0.79" cy="9.96" rx="0.57" ry="0.67" fill="url(#lw)"/><ellipse cx="0" cy="12" rx="5.5" ry="11.5" fill="url(#ps)"/><ellipse cx="-3.97" cy="10.48" rx="0.71" ry="0.64" fill="url(#lw)" opacity="0.67"/><ellipse cx="1.24" cy="11.45" rx="0.52" ry="0.41" fill="url(#lw)" opacity="0.65"/><ellipse cx="-1.00" cy="10.41" rx="0.63" ry="0.71" fill="url(#lw)" opacity="0.69"/><ellipse cx="-1.23" cy="5.47" rx="0.54" ry="0.56" fill="url(#lw)" opacity="0.78"/><ellipse cx="1.71" cy="11.01" rx="1.10" ry="1.26" fill="url(#lw)" opacity="0.82"/><ellipse cx="0.42" cy="18.70" rx="1.09" ry="1.13" fill="url(#lw)" opacity="0.45"/><ellipse cx="0.40" cy="14.26" rx="0.56" ry="0.46" fill="url(#lw)" opacity="0.68"/><ellipse cx="2.74" cy="16.44" rx="1.02" ry="1.29" fill="url(#lw)" opacity="0.76"/><ellipse cx="-0.94" cy="3.64" rx="1.17" ry="1.33" fill="url(#lw)" opacity="0.83"/><ellipse cx="0.75" cy="13.20" rx="0.55" ry="0.46" fill="url(#lw)" opacity="0.57"/><ellipse cx="-3.06" cy="13.70" rx="1.02" ry="0.77" fill="url(#lw)" opacity="0.58"/><ellipse cx="-1.92" cy="10.88" rx="0.58" ry="0.65" fill="url(#lw)" opacity="0.57"/><ellipse cx="0" cy="10" rx="3.5" ry="5" fill="url(#hr)"/><ellipse cx="0" cy="16" rx="4" ry="1" fill="url(#lw)"/><ellipse cx="0" cy="19.5" rx="5.4" ry="2.8" fill="url(#hr)"/></g></g><g transform="translate(71.7,220) scale(1.000,1.167)"><use href="#ms" fill="url(#mw)"/><g clip-path="url(#mc)"><ellipse cx="-2" cy="8" rx="2" ry="3" fill="url(#pu)"/><ellipse cx="1" cy="14" rx="2.5" ry="2" fill="url(#pu)"/><ellipse cx="-1" cy="19" rx="3" ry="2" fill="url(#pu)"/><ellipse cx="2" cy="22" rx="2" ry="1.5" fill="url(#pu)"/></g></g><g transform="translate(88.2,220) scale(1.000,1.167)"><use href="#ms" fill="url(#mw)"/><g clip-path="url(#mc)"><ellipse cx="-1" cy="6" rx="3" ry="2.5" fill="url(#ps)"/><ellipse cx="-1.54" cy="4.98" rx="1.17" ry="1.60" fill="url(#lw)" opacity="0.43"/><ellipse cx="1" cy="11" rx="4" ry="2" fill="url(#ps)"/><ellipse cx="1.15" cy="9.79" rx="0.71" ry="0.55" fill="url(#lw)" opacity="0.62"/><ellipse cx="0" cy="15" rx="5" ry="1.5" fill="url(#ps)"/><ellipse cx="-1.87" cy="15.73" rx="1.14" ry="1.11" fill="url(#lw)" opacity="0.53"/><ellipse cx="-2.5" cy="19.5" rx="2.2" ry="2.2" fill="url(#ht)"/><ellipse cx="2" cy="19.5" rx="2.2" ry="2.2" fill="url(#hg)"/><ellipse cx="0" cy="22.5" rx="4" ry="1.5" fill="url(#pu)"/></g></g><g transform="translate(104.7,220) scale(1.000,1.167)"><use href="#ms" fill="url(#mw)"/><g clip-path="url(#mc)"><ellipse cx="0" cy="7" rx="4" ry="3" fill="url(#ps)"/><ellipse cx="-2.35" cy="7.01" rx="1.05" ry="1.16" fill="url(#lw)" opacity="0.53"/><ellipse cx="-1.44" cy="8.78" rx="0.86" ry="0.63" fill="url(#lw)" opacity="0.59"/><ellipse cx="1" cy="12" rx="4" ry="1.5" fill="url(#ps)"/><ellipse cx="0" cy="18" rx="3.5" ry="2.2" fill="url(#hg)"/><ellipse cx="1" cy="18" rx="1.5" ry="1.2" fill="url(#ht)"/><ellipse cx="0" cy="21.5" rx="4" ry="1.5" fill="url(#pu)"/></g></g><g transform="translate(71.2,253.5) scale(1.045,1.250)"><use href="#ms" fill="url(#mw)"/><g clip-path="url(#mc)"><ellipse cx="-1" cy="5" rx="3" ry="2.5" fill="url(#ps)"/><ellipse cx="-0.87" cy="6.41" rx="0.55" ry="0.49" fill="url(#lw)" opacity="0.44"/><ellipse cx="1" cy="10" rx="3" ry="2" fill="url(#pu)"/><ellipse cx="-1" cy="16" rx="3" ry="2.5" fill="url(#ps)"/><ellipse cx="-3.34" cy="16.28" rx="0.88" ry="0.85" fill="url(#lw)" opacity="0.82"/><ellipse cx="1" cy="21" rx="3" ry="2" fill="url(#ps)"/></g></g><g transform="translate(88.8,253.5) scale(1.045,1.250)"><use href="#ms" fill="url(#mp)"/><g clip-path="url(#mc)"><ellipse cx="0.05" cy="3.95" rx="0.74" ry="0.92" fill="url(#lw)"/><ellipse cx="-2.9" cy="8.02" rx="1.07" ry="1.27" fill="url(#lw)"/><ellipse cx="-1.97" cy="20.54" rx="0.77" ry="0.79" fill="url(#lw)"/><ellipse cx="-0.29" cy="9.89" rx="0.81" ry="0.6" fill="url(#lw)"/><ellipse cx="1.86" cy="9.5" rx="0.51" ry="0.45" fill="url(#lw)"/><ellipse cx="-2.86" cy="9.4" rx="0.99" ry="0.69" fill="url(#lw)"/><ellipse cx="0" cy="3.5" rx="2" ry="2" fill="url(#hg)"/><ellipse cx="-1" cy="9" rx="3.2" ry="3.2" fill="url(#ht)"/><ellipse cx="1.5" cy="13.5" rx="3" ry="2.5" fill="url(#hg)"/><ellipse cx="-2" cy="14" rx="1.5" ry="1.5" fill="url(#hb)"/><ellipse cx="-2.5" cy="19" rx="2.6" ry="2.6" fill="url(#hr)"/><ellipse cx="2.5" cy="19" rx="2.6" ry="2.6" fill="url(#hg)"/></g></g><g transform="translate(103.8,253.5) scale(1.045,1.250)"><use href="#ms" fill="url(#mp)"/><g clip-path="url(#mc)"><ellipse cx="3.46" cy="6.9" rx="0.75" ry="0.67" fill="url(#lw)"/><ellipse cx="-2.46" cy="17.06" rx="0.75" ry="1.04" fill="url(#lw)"/><ellipse cx="-0.85" cy="20.98" rx="0.95" ry="1.26" fill="url(#lw)"/><ellipse cx="-0.61" cy="18.74" rx="1.0" ry="1.33" fill="url(#lw)"/><ellipse cx="0.95" cy="3.65" rx="0.51" ry="0.64" fill="url(#lw)"/><ellipse cx="-0.46" cy="13.68" rx="1.04" ry="1.2" fill="url(#lw)"/><ellipse cx="0" cy="2" rx="2" ry="2" fill="url(#lw)"/><ellipse cx="0" cy="9.5" rx="4.2" ry="4.8" fill="url(#hr)"/><ellipse cx="0" cy="15.5" rx="4.5" ry="1.2" fill="url(#lw)"/><ellipse cx="0" cy="19.5" rx="5.5" ry="3" fill="url(#hr)"/></g></g><g transform="translate(70,290) scale(1.091,1.146)"><use href="#msc" fill="url(#mp)"/><g clip-path="url(#mcc)"><ellipse cx="-2.21" cy="10.72" rx="0.66" ry="0.81" fill="url(#lw)"/><ellipse cx="-1.84" cy="19.56" rx="1.06" ry="0.77" fill="url(#lw)"/><ellipse cx="2.3" cy="20.29" rx="0.86" ry="0.68" fill="url(#lw)"/><ellipse cx="2.78" cy="18.94" rx="0.62" ry="0.44" fill="url(#lw)"/><ellipse cx="-2.32" cy="11.24" rx="0.54" ry="0.53" fill="url(#lw)"/><ellipse cx="-0.21" cy="8.16" rx="0.9" ry="0.71" fill="url(#lw)"/><ellipse cx="0" cy="2.5" rx="1.5" ry="2" fill="url(#lw)"/><ellipse cx="-1.5" cy="7" rx="1" ry="1.2" fill="url(#lw)"/><ellipse cx="1.5" cy="9" rx="1.2" ry="1.2" fill="url(#lw)"/><ellipse cx="-2" cy="11" rx="1" ry="1" fill="url(#lw)"/><ellipse cx="0" cy="14.5" rx="5" ry="1.5" fill="url(#lw)"/><ellipse cx="-3.2" cy="18" rx="2.8" ry="2.6" fill="url(#ht)"/><ellipse cx="1.5" cy="18.5" rx="2.8" ry="2.4" fill="url(#hg)"/><ellipse cx="3.5" cy="20" rx="1" ry="1" fill="url(#lw)"/></g></g><g transform="translate(103.2,290) scale(1.091,1.146)"><use href="#msc" fill="url(#mp)"/><g clip-path="url(#mcc)"><ellipse cx="-0.13" cy="15.7" rx="0.5" ry="0.63" fill="url(#lw)"/><ellipse cx="-1.66" cy="12.82" rx="0.94" ry="0.75" fill="url(#lw)"/><ellipse cx="0.57" cy="20.39" rx="0.64" ry="0.71" fill="url(#lw)"/><ellipse cx="1.0" cy="9.75" rx="0.72" ry="0.75" fill="url(#lw)"/><ellipse cx="3.32" cy="15.64" rx="0.55" ry="0.43" fill="url(#lw)"/><ellipse cx="-0.89" cy="16.95" rx="0.59" ry="0.63" fill="url(#lw)"/><ellipse cx="0" cy="2" rx="1.2" ry="1.5" fill="url(#lw)"/><ellipse cx="0" cy="8" rx="3.5" ry="5" fill="url(#hr)"/><ellipse cx="0" cy="13.5" rx="5" ry="1.5" fill="url(#lw)"/><ellipse cx="0" cy="18.5" rx="5.8" ry="3.2" fill="url(#hr)"/><ellipse cx="0" cy="22.5" rx="5" ry="1" fill="url(#hg)"/></g></g><g transform="translate(70,320) scale(1.091,1.125)"><use href="#msc" fill="url(#mp)"/><g clip-path="url(#mcc)"><ellipse cx="-1.39" cy="6.0" rx="1.06" ry="0.8" fill="url(#lw)"/><ellipse cx="1.49" cy="19.87" rx="1.07" ry="1.49" fill="url(#lw)"/><ellipse cx="1.08" cy="19.65" rx="0.72" ry="0.77" fill="url(#lw)"/><ellipse cx="-1.08" cy="3.39" rx="0.68" ry="0.69" fill="url(#lw)"/><ellipse cx="-3.11" cy="12.01" rx="0.52" ry="0.51" fill="url(#lw)"/><ellipse cx="-0.57" cy="12.07" rx="0.87" ry="1.09" fill="url(#lw)"/><ellipse cx="0" cy="3" rx="1.5" ry="2" fill="url(#lw)"/><ellipse cx="-1" cy="8" rx="1.2" ry="1.5" fill="url(#lw)"/><ellipse cx="1.5" cy="11" rx="1" ry="1" fill="url(#lw)"/><ellipse cx="0" cy="15" rx="5" ry="1.5" fill="url(#lw)"/><ellipse cx="-3.2" cy="20" rx="2.6" ry="2.4" fill="url(#hr)"/><ellipse cx="0" cy="19.5" rx="2.2" ry="2.2" fill="url(#hg)"/><ellipse cx="3.2" cy="20" rx="2.6" ry="2.4" fill="url(#hr)"/></g></g><g transform="translate(103.2,320) scale(1.091,1.125)"><use href="#msc" fill="url(#mp)"/><g clip-path="url(#mcc)"><ellipse cx="-1.57" cy="17.11" rx="0.94" ry="0.83" fill="url(#lw)"/><ellipse cx="-1.11" cy="5.59" rx="1.08" ry="0.96" fill="url(#lw)"/><ellipse cx="-2.05" cy="11.17" rx="0.54" ry="0.41" fill="url(#lw)"/><ellipse cx="-2.53" cy="9.32" rx="0.8" ry="0.87" fill="url(#lw)"/><ellipse cx="2.97" cy="8.39" rx="0.83" ry="1.06" fill="url(#lw)"/><ellipse cx="-0.36" cy="16.25" rx="0.82" ry="0.79" fill="url(#lw)"/><ellipse cx="0" cy="10" rx="5" ry="9" fill="url(#hg)"/><ellipse cx="0" cy="10.5" rx="3.8" ry="7.5" fill="url(#hr)"/><ellipse cx="0" cy="20" rx="5.8" ry="3.5" fill="url(#hg)"/><ellipse cx="0" cy="20" rx="5.2" ry="2.6" fill="url(#hr)"/></g></g><g transform="translate(70.4,352) scale(1.182,1.250)"><use href="#msc" fill="url(#mp)"/><g clip-path="url(#mcc)"><ellipse cx="0.62" cy="5.11" rx="0.93" ry="1.05" fill="url(#lw)"/><ellipse cx="2.27" cy="11.9" rx="1.02" ry="0.74" fill="url(#lw)"/><ellipse cx="1.68" cy="13.1" rx="0.51" ry="0.37" fill="url(#lw)"/><ellipse cx="2.78" cy="6.18" rx="0.58" ry="0.43" fill="url(#lw)"/><ellipse cx="-1.78" cy="7.74" rx="1.03" ry="1.03" fill="url(#lw)"/><ellipse cx="2.3" cy="14.26" rx="0.73" ry="0.84" fill="url(#lw)"/><ellipse cx="0" cy="2" rx="1.2" ry="1.5" fill="url(#lw)"/><ellipse cx="0" cy="6.5" rx="3.2" ry="3.5" fill="url(#hg)"/><ellipse cx="-2" cy="12" rx="1.5" ry="1" fill="url(#lw)"/><ellipse cx="2.5" cy="13" rx="1.5" ry="1" fill="url(#lw)"/><ellipse cx="-3" cy="16.5" rx="2.8" ry="2.8" fill="url(#hr)"/><ellipse cx="3" cy="16.5" rx="2.8" ry="2.8" fill="url(#hr)"/><ellipse cx="-3" cy="21" rx="1.5" ry="1.5" fill="url(#lw)"/><ellipse cx="3" cy="21" rx="1.2" ry="1.2" fill="url(#lw)"/></g></g><g transform="translate(70.4,383) scale(1.227,1.292)"><use href="#msc" fill="url(#mp)"/><g clip-path="url(#mcc)"><ellipse cx="1.81" cy="12.28" rx="1.04" ry="1.07" fill="url(#lw)"/><ellipse cx="1.78" cy="7.66" rx="0.68" ry="0.48" fill="url(#lw)"/><ellipse cx="-3.01" cy="14.58" rx="1.01" ry="0.79" fill="url(#lw)"/><ellipse cx="-0.28" cy="14.68" rx="1.04" ry="1.25" fill="url(#lw)"/><ellipse cx="-3.05" cy="15.31" rx="0.56" ry="0.41" fill="url(#lw)"/><ellipse cx="0.78" cy="6.99" rx="1.07" ry="0.83" fill="url(#lw)"/><ellipse cx="0" cy="5.5" rx="2.8" ry="3.2" fill="url(#hg)"/><ellipse cx="-1.5" cy="11" rx="2.8" ry="2.2" fill="url(#hg)"/><ellipse cx="1.5" cy="13" rx="1.2" ry="1.2" fill="url(#lw)"/><ellipse cx="-3.8" cy="18.5" rx="2.8" ry="3" fill="url(#hr)"/><ellipse cx="0" cy="18.5" rx="1.5" ry="2" fill="url(#lw)"/><ellipse cx="3.5" cy="18.5" rx="2.8" ry="3" fill="url(#hr)"/><ellipse cx="0" cy="21" rx="2" ry="1.2" fill="url(#hg)"/></g></g><g transform="translate(70.4,415) scale(1.182,1.250)"><use href="#msc" fill="url(#mp)"/><g clip-path="url(#mcc)"><ellipse cx="-0.04" cy="12.65" rx="1.04" ry="1.13" fill="url(#lw)"/><ellipse cx="0.51" cy="19.42" rx="0.59" ry="0.52" fill="url(#lw)"/><ellipse cx="-2.53" cy="11.84" rx="0.91" ry="0.92" fill="url(#lw)"/><ellipse cx="-0.52" cy="14.19" rx="0.89" ry="0.73" fill="url(#lw)"/><ellipse cx="-2.06" cy="4.59" rx="0.71" ry="0.54" fill="url(#lw)"/><ellipse cx="-2.41" cy="6.9" rx="0.66" ry="0.9" fill="url(#lw)"/><ellipse cx="1.5" cy="4.5" rx="2.5" ry="2.8" fill="url(#hr)"/><ellipse cx="-1" cy="7" rx="1.2" ry="1.2" fill="url(#lw)"/><ellipse cx="-1" cy="10.5" rx="3" ry="2.5" fill="url(#hg)"/><ellipse cx="2" cy="13" rx="1.5" ry="1.5" fill="url(#lw)"/><ellipse cx="2.5" cy="16" rx="2" ry="2" fill="url(#hg)"/><ellipse cx="-2.5" cy="19.5" rx="3" ry="2.8" fill="url(#hr)"/><ellipse cx="3.5" cy="21" rx="2" ry="1.8" fill="url(#lw)"/></g></g><g transform="translate(141.8,46.5) scale(0.891,1.000)"><use href="#ms" fill="url(#mw)"/></g><g transform="translate(156.6,46.5) scale(0.891,1.000)"><use href="#ms" fill="url(#mw)"/></g><g transform="translate(170.8,46.5) scale(0.891,1.000)"><use href="#ms" fill="url(#mw)"/></g><g transform="translate(184.3,46.5) scale(0.891,1.000)"><use href="#ms" fill="url(#mw)"/></g><g transform="translate(141.8,73.5) scale(0.891,1.000)"><use href="#ms" fill="url(#mw)"/><g clip-path="url(#mc)"><ellipse cx="0" cy="10.5" rx="5.2" ry="3.38" fill="url(#ps)"/><ellipse cx="-1.07" cy="9.37" rx="1.05" ry="1.35" fill="url(#lw)" opacity="0.53"/><ellipse cx="1.14" cy="11.10" rx="0.75" ry="0.99" fill="url(#lw)" opacity="0.52"/><ellipse cx="-1.96" cy="9.15" rx="1.17" ry="0.91" fill="url(#lw)" opacity="0.75"/><ellipse cx="0.5" cy="18" rx="3.25" ry="2.34" fill="url(#pu)"/></g></g><g transform="translate(156.6,73.5) scale(0.891,1.000)"><use href="#ms" fill="url(#mw)"/><g clip-path="url(#mc)"><ellipse cx="0" cy="10.5" rx="5.2" ry="3.38" fill="url(#ps)"/><ellipse cx="-0.46" cy="11.00" rx="0.94" ry="1.22" fill="url(#lw)" opacity="0.66"/><ellipse cx="3.86" cy="11.31" rx="0.77" ry="0.88" fill="url(#lw)" opacity="0.73"/><ellipse cx="-0.13" cy="11.80" rx="0.73" ry="0.56" fill="url(#lw)" opacity="0.43"/><ellipse cx="0.5" cy="18" rx="3.25" ry="2.34" fill="url(#pu)"/></g></g><g transform="translate(170.8,73.5) scale(0.891,1.000)"><use href="#ms" fill="url(#mw)"/><g clip-path="url(#mc)"><ellipse cx="0" cy="10.5" rx="5.2" ry="3.38" fill="url(#ps)"/><ellipse cx="-0.42" cy="9.22" rx="1.11" ry="0.82" fill="url(#lw)" opacity="0.54"/><ellipse cx="1.68" cy="12.83" rx="1.05" ry="1.40" fill="url(#lw)" opacity="0.63"/><ellipse cx="1.61" cy="11.31" rx="0.66" ry="0.47" fill="url(#lw)" opacity="0.65"/><ellipse cx="0.5" cy="18" rx="3.25" ry="2.34" fill="url(#pu)"/></g></g><g transform="translate(184.3,73.5) scale(0.891,1.000)"><use href="#ms" fill="url(#mw)"/><g clip-path="url(#mc)"><ellipse cx="0" cy="10.5" rx="5.2" ry="3.38" fill="url(#ps)"/><ellipse cx="-0.23" cy="11.07" rx="0.86" ry="1.16" fill="url(#lw)" opacity="0.83"/><ellipse cx="-0.87" cy="10.62" rx="1.04" ry="0.81" fill="url(#lw)" opacity="0.64"/><ellipse cx="3.56" cy="11.84" rx="0.88" ry="0.89" fill="url(#lw)" opacity="0.52"/><ellipse cx="0.5" cy="18" rx="3.25" ry="2.34" fill="url(#pu)"/></g></g><g transform="translate(141.8,101) scale(0.891,1.042)"><use href="#ms" fill="url(#mw)"/><g clip-path="url(#mc)"><ellipse cx="0" cy="10" rx="6.5" ry="7.8" fill="url(#ps)"/><ellipse cx="-4.82" cy="8.08" rx="0.80" ry="0.68" fill="url(#lw)" opacity="0.63"/><ellipse cx="2.08" cy="8.59" rx="0.94" ry="1.27" fill="url(#lw)" opacity="0.55"/><ellipse cx="1.14" cy="6.60" rx="0.60" ry="0.44" fill="url(#lw)" opacity="0.82"/><ellipse cx="-2.61" cy="10.68" rx="1.14" ry="1.26" fill="url(#lw)" opacity="0.63"/><ellipse cx="-0.86" cy="14.73" rx="0.68" ry="0.70" fill="url(#lw)" opacity="0.74"/><ellipse cx="-1.00" cy="9.07" rx="0.64" ry="0.76" fill="url(#lw)" opacity="0.73"/><ellipse cx="4.15" cy="13.74" rx="0.59" ry="0.49" fill="url(#lw)" opacity="0.44"/><ellipse cx="-3.27" cy="11.38" rx="1.10" ry="0.90" fill="url(#lw)" opacity="0.71"/><ellipse cx="2.60" cy="12.42" rx="0.68" ry="0.64" fill="url(#lw)" opacity="0.42"/><ellipse cx="-0.22" cy="8.58" rx="1.03" ry="0.97" fill="url(#lw)" opacity="0.67"/><ellipse cx="0" cy="18" rx="5.2" ry="2.6" fill="url(#pu)"/></g></g><g transform="translate(156.6,101) scale(0.891,1.042)"><use href="#ms" fill="url(#mw)"/><g clip-path="url(#mc)"><ellipse cx="-1" cy="6" rx="1.95" ry="1.95" fill="url(#pu)"/><ellipse cx="0" cy="12" rx="4.55" ry="3.64" fill="url(#ps)"/><ellipse cx="-1.29" cy="10.77" rx="1.11" ry="1.49" fill="url(#lw)" opacity="0.53"/><ellipse cx="-1.63" cy="14.25" rx="0.59" ry="0.59" fill="url(#lw)" opacity="0.59"/><ellipse cx="0.85" cy="11.90" rx="0.96" ry="1.18" fill="url(#lw)" opacity="0.73"/><ellipse cx="2" cy="19" rx="2.6" ry="2.6" fill="url(#pu)"/></g></g><g transform="translate(170.8,101) scale(0.891,1.042)"><use href="#ms" fill="url(#mw)"/><g clip-path="url(#mc)"><ellipse cx="-2" cy="7" rx="2.6" ry="3.25" fill="url(#pu)"/><ellipse cx="0" cy="12" rx="5.2" ry="3.9" fill="url(#ps)"/><ellipse cx="3.95" cy="12.02" rx="0.72" ry="0.93" fill="url(#lw)" opacity="0.70"/><ellipse cx="-3.14" cy="13.28" rx="0.97" ry="0.91" fill="url(#lw)" opacity="0.73"/><ellipse cx="-3.11" cy="11.92" rx="0.93" ry="1.17" fill="url(#lw)" opacity="0.47"/><ellipse cx="-0.52" cy="12.01" rx="1.05" ry="1.31" fill="url(#lw)" opacity="0.78"/><ellipse cx="1" cy="19" rx="3.9" ry="2.6" fill="url(#pu)"/></g></g><g transform="translate(184.3,101) scale(0.891,1.042)"><use href="#ms" fill="url(#mw)"/><g clip-path="url(#mc)"><ellipse cx="0.5" cy="12" rx="3.64" ry="2.34" fill="url(#ps)"/><ellipse cx="2.16" cy="12.30" rx="0.84" ry="0.65" fill="url(#lw)" opacity="0.49"/></g></g><g transform="translate(141.8,129) scale(0.891,1.000)"><use href="#ms" fill="url(#mw)"/><g clip-path="url(#mc)"><ellipse cx="0" cy="12" rx="5.2" ry="3.9" fill="url(#ps)"/><ellipse cx="3.58" cy="11.56" rx="0.67" ry="0.85" fill="url(#lw)" opacity="0.69"/><ellipse cx="-2.15" cy="13.42" rx="0.66" ry="0.59" fill="url(#lw)" opacity="0.40"/><ellipse cx="-1.46" cy="10.35" rx="1.02" ry="1.07" fill="url(#lw)" opacity="0.60"/><ellipse cx="-1.11" cy="14.25" rx="0.76" ry="0.85" fill="url(#lw)" opacity="0.74"/><ellipse cx="0" cy="18" rx="2.6" ry="1.95" fill="url(#pu)"/></g></g><g transform="translate(156.6,129) scale(0.891,1.000)"><use href="#ms" fill="url(#mw)"/><g clip-path="url(#mc)"><ellipse cx="0" cy="12" rx="7.15" ry="13.0" fill="url(#ps)"/><ellipse cx="-3.90" cy="14.58" rx="0.54" ry="0.48" fill="url(#lw)" opacity="0.78"/><ellipse cx="0.60" cy="13.45" rx="0.51" ry="0.63" fill="url(#lw)" opacity="0.45"/><ellipse cx="-2.81" cy="13.38" rx="1.06" ry="1.10" fill="url(#lw)" opacity="0.63"/><ellipse cx="4.64" cy="13.32" rx="1.04" ry="1.18" fill="url(#lw)" opacity="0.78"/><ellipse cx="-3.24" cy="6.87" rx="1.10" ry="1.24" fill="url(#lw)" opacity="0.41"/><ellipse cx="4.24" cy="5.16" rx="0.64" ry="0.48" fill="url(#lw)" opacity="0.55"/><ellipse cx="2.07" cy="14.74" rx="0.56" ry="0.48" fill="url(#lw)" opacity="0.40"/><ellipse cx="-2.00" cy="13.75" rx="1.01" ry="0.98" fill="url(#lw)" opacity="0.47"/><ellipse cx="4.97" cy="9.27" rx="0.98" ry="0.84" fill="url(#lw)" opacity="0.58"/><ellipse cx="-2.63" cy="13.52" rx="0.52" ry="0.53" fill="url(#lw)" opacity="0.75"/><ellipse cx="-1.75" cy="3.44" rx="0.98" ry="1.21" fill="url(#lw)" opacity="0.79"/><ellipse cx="4.06" cy="7.76" rx="0.79" ry="0.92" fill="url(#lw)" opacity="0.70"/><ellipse cx="3.17" cy="6.76" rx="0.81" ry="0.68" fill="url(#lw)" opacity="0.55"/><ellipse cx="-0.01" cy="19.51" rx="1.04" ry="0.87" fill="url(#lw)" opacity="0.64"/><ellipse cx="1.37" cy="8.10" rx="0.57" ry="0.64" fill="url(#lw)" opacity="0.56"/><ellipse cx="1.33" cy="15.08" rx="0.50" ry="0.41" fill="url(#lw)" opacity="0.59"/><ellipse cx="0.59" cy="12.83" rx="0.88" ry="1.21" fill="url(#lw)" opacity="0.78"/><ellipse cx="-2.46" cy="20.62" rx="0.56" ry="0.45" fill="url(#lw)" opacity="0.40"/><ellipse cx="0" cy="8" rx="2" ry="1.5" fill="url(#lw)"/><ellipse cx="-1" cy="16" rx="2" ry="1.5" fill="url(#lw)"/></g></g><g transform="translate(170.8,129) scale(0.891,1.000)"><use href="#ms" fill="url(#mw)"/><g clip-path="url(#mc)"><ellipse cx="0" cy="11" rx="5.2" ry="5.2" fill="url(#ps)"/><ellipse cx="2.53" cy="11.97" rx="1.03" ry="1.07" fill="url(#lw)" opacity="0.76"/><ellipse cx="-3.68" cy="12.17" rx="0.93" ry="1.00" fill="url(#lw)" opacity="0.48"/><ellipse cx="-1.90" cy="11.95" rx="1.08" ry="0.93" fill="url(#lw)" opacity="0.53"/><ellipse cx="0.32" cy="10.29" rx="0.88" ry="0.75" fill="url(#lw)" opacity="0.70"/><ellipse cx="-0.72" cy="10.52" rx="1.01" ry="1.00" fill="url(#lw)" opacity="0.54"/><ellipse cx="0" cy="18" rx="3.9" ry="2.6" fill="url(#pu)"/></g></g><g transform="translate(184.3,129) scale(0.891,1.000)"><use href="#ms" fill="url(#mw)"/><g clip-path="url(#mc)"><ellipse cx="0" cy="12" rx="3.25" ry="2.6" fill="url(#pu)"/></g></g><g transform="translate(141.8,158) scale(0.891,1.000)"><use href="#ms" fill="url(#mw)"/></g><g transform="translate(156.6,158) scale(0.891,1.000)"><use href="#ms" fill="url(#mw)"/><g clip-path="url(#mc)"><ellipse cx="-1" cy="7" rx="3" ry="3" fill="url(#ps)"/><ellipse cx="0.20" cy="5.48" rx="0.72" ry="0.84" fill="url(#lw)" opacity="0.46"/><ellipse cx="2" cy="13" rx="3" ry="3" fill="url(#pu)"/><ellipse cx="0" cy="19" rx="3.5" ry="2" fill="url(#ps)"/><ellipse cx="-0.55" cy="18.96" rx="0.95" ry="1.27" fill="url(#lw)" opacity="0.69"/><ellipse cx="-2" cy="14" rx="1.5" ry="1.5" fill="url(#pu)"/></g></g><g transform="translate(170.8,158) scale(0.891,1.000)"><use href="#ms" fill="url(#mw)"/><g clip-path="url(#mc)"><ellipse cx="2" cy="17" rx="2.5" ry="2" fill="url(#ps)"/></g></g><g transform="translate(184.3,158) scale(0.891,1.000)"><use href="#ms" fill="url(#mw)"/></g><g transform="translate(141.8,187) scale(0.891,1.021)"><use href="#ms" fill="url(#mw)"/></g><g transform="translate(156.6,187) scale(0.891,1.021)"><use href="#ms" fill="url(#mw)"/><g clip-path="url(#mc)"><ellipse cx="0" cy="12" rx="5.5" ry="11.5" fill="url(#ps)"/><ellipse cx="2.44" cy="13.34" rx="0.83" ry="0.84" fill="url(#lw)" opacity="0.47"/><ellipse cx="-0.40" cy="16.69" rx="0.55" ry="0.64" fill="url(#lw)" opacity="0.51"/><ellipse cx="-0.23" cy="13.82" rx="0.71" ry="0.96" fill="url(#lw)" opacity="0.53"/><ellipse cx="1.55" cy="14.23" rx="1.16" ry="0.88" fill="url(#lw)" opacity="0.55"/><ellipse cx="0.81" cy="18.42" rx="0.82" ry="0.63" fill="url(#lw)" opacity="0.79"/><ellipse cx="-1.50" cy="17.89" rx="0.82" ry="1.07" fill="url(#lw)" opacity="0.43"/><ellipse cx="0.23" cy="15.42" rx="0.69" ry="0.87" fill="url(#lw)" opacity="0.63"/><ellipse cx="-1.43" cy="16.29" rx="1.09" ry="1.20" fill="url(#lw)" opacity="0.60"/><ellipse cx="-1.61" cy="6.91" rx="0.78" ry="0.78" fill="url(#lw)" opacity="0.46"/><ellipse cx="-3.65" cy="15.07" rx="0.71" ry="0.68" fill="url(#lw)" opacity="0.67"/><ellipse cx="-1.03" cy="10.62" rx="0.81" ry="0.99" fill="url(#lw)" opacity="0.42"/><ellipse cx="2.68" cy="16.57" rx="1.13" ry="0.85" fill="url(#lw)" opacity="0.44"/><ellipse cx="-0.5" cy="8" rx="2.5" ry="2.5" fill="url(#ht)"/><ellipse cx="1" cy="13" rx="2.5" ry="1.5" fill="url(#hb)"/><ellipse cx="0.5" cy="18.5" rx="3" ry="2" fill="url(#hg)"/><ellipse cx="2.5" cy="19" rx="1.8" ry="1.8" fill="url(#ht)"/></g></g><g transform="translate(170.8,187) scale(0.891,1.021)"><use href="#ms" fill="url(#mw)"/><g clip-path="url(#mc)"><ellipse cx="0" cy="17" rx="5" ry="5" fill="url(#pu)"/><ellipse cx="2" cy="19" rx="2" ry="2" fill="url(#ht)"/></g></g><g transform="translate(184.3,187) scale(0.891,1.021)"><use href="#ms" fill="url(#mw)"/></g><g transform="translate(141,220) scale(1.000,1.167)"><use href="#ms" fill="url(#mw)"/></g><g transform="translate(156.8,220) scale(1.000,1.167)"><use href="#ms" fill="url(#mw)"/><g clip-path="url(#mc)"><ellipse cx="-2" cy="6" rx="2.5" ry="3" fill="url(#ps)"/><ellipse cx="-2.52" cy="5.36" rx="0.96" ry="0.69" fill="url(#lw)" opacity="0.61"/><ellipse cx="0" cy="12" rx="2.8" ry="2.8" fill="url(#ps)"/><ellipse cx="0.49" cy="12.79" rx="0.99" ry="1.04" fill="url(#lw)" opacity="0.78"/><ellipse cx="0" cy="19" rx="4" ry="2.5" fill="url(#pu)"/></g></g><g transform="translate(173.5,220) scale(1.000,1.167)"><use href="#ms" fill="url(#mw)"/><g clip-path="url(#mc)"><ellipse cx="2" cy="17" rx="3" ry="3" fill="url(#pu)"/></g></g><g transform="translate(186,220) scale(1.000,1.167)"><use href="#ms" fill="url(#mw)"/></g><g transform="translate(141,253.5) scale(1.000,1.250)"><use href="#ms" fill="url(#mw)"/></g><g transform="translate(156.8,253.5) scale(1.000,1.250)"><use href="#ms" fill="url(#mw)"/><g clip-path="url(#mc)"><ellipse cx="2" cy="21" rx="2" ry="2" fill="url(#pu)"/></g></g><g transform="translate(173.5,253.5) scale(1.000,1.250)"><use href="#ms" fill="url(#mw)"/><g clip-path="url(#mc)"><ellipse cx="2" cy="19" rx="3" ry="2.5" fill="url(#ps)"/><ellipse cx="2.87" cy="17.88" rx="1.09" ry="0.90" fill="url(#lw)" opacity="0.61"/><ellipse cx="2" cy="19" rx="1" ry="1" fill="url(#lw)"/></g></g><g transform="translate(186,253.5) scale(1.000,1.250)"><use href="#ms" fill="url(#mw)"/></g><g transform="translate(141.7,290) scale(1.045,1.146)"><use href="#ms" fill="url(#mw)"/></g><g transform="translate(156.5,290) scale(1.045,1.146)"><use href="#ms" fill="url(#mw)"/></g><g transform="translate(172.8,290) scale(1.045,1.146)"><use href="#ms" fill="url(#mw)"/><g clip-path="url(#mc)"><g transform="translate(2.6,18.2) rotate(-25)"><rect x="-4.1" y="-4.3" width="8.2" height="8.6" rx="1.6" fill="#3a2aa8"/><rect x="-3.4" y="-3.6" width="6.8" height="7.2" rx="1.2" fill="#d8d0f0"/><rect x="-2.9" y="-3.1" width="5.8" height="6.2" rx="1" fill="#b8283a"/></g></g></g><g transform="translate(186.8,290) scale(1.045,1.146)"><use href="#ms" fill="url(#mw)"/></g><g transform="translate(141.7,320) scale(1.073,1.125)"><use href="#ms" fill="url(#mw)"/></g><g transform="translate(156.5,320) scale(1.073,1.125)"><use href="#ms" fill="url(#mw)"/></g><g transform="translate(172.8,320) scale(1.073,1.125)"><use href="#ms" fill="url(#mw)"/><g clip-path="url(#mc)"><g transform="translate(2.4,18.2) rotate(-25)"><rect x="-4.1" y="-4.3" width="8.2" height="8.6" rx="1.6" fill="#3a2aa8"/><rect x="-3.4" y="-3.6" width="6.8" height="7.2" rx="1.2" fill="#d8d0f0"/><rect x="-2.9" y="-3.1" width="5.8" height="6.2" rx="1" fill="#b8283a"/></g></g></g><g transform="translate(186.8,320) scale(1.073,1.125)"><use href="#ms" fill="url(#mw)"/></g><g transform="translate(139.5,352) scale(1.109,1.250)"><use href="#ms" fill="url(#mw)"/></g><g transform="translate(155.2,352) scale(1.109,1.250)"><use href="#ms" fill="url(#mw)"/></g><g transform="translate(173,352) scale(1.109,1.250)"><use href="#ms" fill="url(#mw)"/><g clip-path="url(#mc)"><ellipse cx="-4" cy="8" rx="2" ry="7" fill="url(#ps)"/><ellipse cx="-4.45" cy="11.41" rx="0.58" ry="0.76" fill="url(#lw)" opacity="0.57"/><ellipse cx="-3.68" cy="2.80" rx="1.16" ry="1.13" fill="url(#lw)" opacity="0.79"/><ellipse cx="0" cy="1.5" rx="3" ry="2" fill="url(#ps)"/><ellipse cx="0" cy="9" rx="3" ry="3" fill="url(#lw)"/><g transform="translate(1.6,17.5) rotate(-30)"><rect x="-4.6" y="-4.8" width="9.2" height="9.6" rx="1.6" fill="#3a2aa8"/><rect x="-3.9" y="-4.1" width="7.8" height="8.2" rx="1.2" fill="#d8d0f0"/><rect x="-3.4" y="-3.6" width="6.8" height="7.2" rx="1" fill="#b8283a"/></g></g></g><g transform="translate(187,352) scale(1.109,1.250)"><use href="#ms" fill="url(#mw)"/></g><g transform="translate(140,383) scale(1.109,1.292)"><use href="#ms" fill="url(#mw)"/></g><g transform="translate(154.6,383) scale(1.109,1.292)"><use href="#ms" fill="url(#mw)"/></g><g transform="translate(172.2,383) scale(1.109,1.292)"><use href="#ms" fill="url(#mw)"/><g clip-path="url(#mc)"><ellipse cx="0" cy="5" rx="5.5" ry="5.5" fill="url(#ps)"/><ellipse cx="1.05" cy="4.98" rx="1.02" ry="1.24" fill="url(#lw)" opacity="0.61"/><ellipse cx="-0.21" cy="6.20" rx="0.79" ry="1.07" fill="url(#lw)" opacity="0.58"/><ellipse cx="-0.10" cy="7.93" rx="0.81" ry="0.91" fill="url(#lw)" opacity="0.60"/><ellipse cx="-0.16" cy="5.67" rx="1.07" ry="1.25" fill="url(#lw)" opacity="0.51"/><ellipse cx="-2.79" cy="5.01" rx="0.85" ry="1.13" fill="url(#lw)" opacity="0.75"/><ellipse cx="-0.64" cy="6.74" rx="0.93" ry="0.76" fill="url(#lw)" opacity="0.82"/><ellipse cx="-1.5" cy="5" rx="2" ry="2.5" fill="url(#hb)"/><ellipse cx="-2.5" cy="8" rx="1.2" ry="1.5" fill="url(#hg)"/><ellipse cx="0" cy="11" rx="4" ry="2" fill="url(#lw)"/><g transform="translate(1.6,18.5) rotate(-30)"><rect x="-4.6" y="-4.8" width="9.2" height="9.6" rx="1.6" fill="#3a2aa8"/><rect x="-3.9" y="-4.1" width="7.8" height="8.2" rx="1.2" fill="#d8d0f0"/><rect x="-3.4" y="-3.6" width="6.8" height="7.2" rx="1" fill="#b8283a"/></g></g></g><g transform="translate(187,383) scale(1.109,1.292)"><use href="#ms" fill="url(#mw)"/></g><g transform="translate(139.5,415) scale(1.073,1.250)"><use href="#ms" fill="url(#mw)"/></g><g transform="translate(154.6,415) scale(1.073,1.250)"><use href="#ms" fill="url(#mw)"/></g><g transform="translate(186.2,415) scale(1.073,1.250)"><use href="#ms" fill="url(#mw)"/></g><g transform="translate(210.5,73.5) scale(0.818,0.958)"><use href="#ms" fill="url(#mw)"/><g clip-path="url(#mc)"><ellipse cx="0" cy="5" rx="1.5" ry="1.5" fill="url(#pu)"/><ellipse cx="-1" cy="9" rx="2.5" ry="2" fill="url(#pu)"/><ellipse cx="1" cy="12" rx="2.2" ry="2" fill="url(#ps)"/><ellipse cx="-2" cy="16" rx="2" ry="2" fill="url(#pu)"/><ellipse cx="0" cy="20" rx="4.5" ry="2.5" fill="url(#ps)"/><ellipse cx="1.94" cy="20.32" rx="0.69" ry="0.74" fill="url(#lw)" opacity="0.42"/><ellipse cx="0.58" cy="21.95" rx="1.05" ry="0.90" fill="url(#lw)" opacity="0.61"/><ellipse cx="0" cy="14" rx="1.5" ry="1.5" fill="url(#lw)"/></g></g><g transform="translate(210.5,100.5) scale(0.909,1.125)"><use href="#ms" fill="url(#mw)"/><g clip-path="url(#mc)"><ellipse cx="0" cy="7" rx="3" ry="2.5" fill="url(#ps)"/><ellipse cx="0.54" cy="7.09" rx="0.63" ry="0.88" fill="url(#lw)" opacity="0.54"/><ellipse cx="0" cy="12" rx="3" ry="1.5" fill="url(#lw)"/><ellipse cx="0" cy="18" rx="5.5" ry="6" fill="url(#ps)"/><ellipse cx="0.01" cy="18.87" rx="0.58" ry="0.81" fill="url(#lw)" opacity="0.73"/><ellipse cx="3.31" cy="16.03" rx="1.05" ry="0.92" fill="url(#lw)" opacity="0.48"/><ellipse cx="-0.10" cy="18.87" rx="0.62" ry="0.75" fill="url(#lw)" opacity="0.62"/><ellipse cx="1.72" cy="18.12" rx="1.09" ry="1.42" fill="url(#lw)" opacity="0.73"/><ellipse cx="-0.47" cy="13.60" rx="0.89" ry="0.86" fill="url(#lw)" opacity="0.66"/><ellipse cx="-0.14" cy="18.74" rx="0.68" ry="0.70" fill="url(#lw)" opacity="0.45"/></g></g><g transform="translate(226,73.5) scale(0.818,0.958)"><use href="#ms" fill="url(#mw)"/><g clip-path="url(#mc)"><ellipse cx="0" cy="4" rx="1.2" ry="1.2" fill="url(#pu)"/><ellipse cx="-1" cy="10" rx="2.5" ry="2.2" fill="url(#ps)"/><ellipse cx="2" cy="14" rx="2" ry="2" fill="url(#pu)"/><ellipse cx="0" cy="19.5" rx="4.5" ry="3" fill="url(#ps)"/><ellipse cx="1.07" cy="19.90" rx="0.76" ry="1.04" fill="url(#lw)" opacity="0.62"/><ellipse cx="1.45" cy="17.91" rx="0.91" ry="0.85" fill="url(#lw)" opacity="0.58"/></g></g><g transform="translate(226,100.5) scale(0.909,1.125)"><use href="#ms" fill="url(#mw)"/><g clip-path="url(#mc)"><ellipse cx="0" cy="8" rx="2.5" ry="3" fill="url(#ps)"/><ellipse cx="-0.56" cy="9.49" rx="1.10" ry="1.38" fill="url(#lw)" opacity="0.53"/><ellipse cx="-2" cy="13" rx="2" ry="2" fill="url(#pu)"/><ellipse cx="0" cy="18" rx="5.5" ry="6" fill="url(#ps)"/><ellipse cx="0.34" cy="18.51" rx="0.91" ry="0.78" fill="url(#lw)" opacity="0.40"/><ellipse cx="-0.46" cy="19.48" rx="0.64" ry="0.75" fill="url(#lw)" opacity="0.66"/><ellipse cx="-0.67" cy="21.60" rx="0.64" ry="0.87" fill="url(#lw)" opacity="0.45"/><ellipse cx="-2.73" cy="16.05" rx="1.01" ry="1.05" fill="url(#lw)" opacity="0.79"/><ellipse cx="-2.21" cy="15.46" rx="0.56" ry="0.46" fill="url(#lw)" opacity="0.61"/><ellipse cx="-0.88" cy="17.72" rx="1.02" ry="0.96" fill="url(#lw)" opacity="0.61"/><ellipse cx="1" cy="16" rx="1.5" ry="1.5" fill="url(#lw)"/></g></g><g transform="translate(242.5,73.5) scale(0.818,0.958)"><use href="#ms" fill="url(#mw)"/><g clip-path="url(#mc)"><ellipse cx="0" cy="6" rx="1.5" ry="2" fill="url(#pu)"/><ellipse cx="0" cy="11" rx="3" ry="2.5" fill="url(#ps)"/><ellipse cx="-2.04" cy="10.76" rx="0.71" ry="0.78" fill="url(#lw)" opacity="0.67"/><ellipse cx="-2" cy="17" rx="2" ry="2" fill="url(#pu)"/><ellipse cx="1" cy="20" rx="4" ry="2.5" fill="url(#ps)"/><ellipse cx="0.29" cy="19.34" rx="0.70" ry="0.72" fill="url(#lw)" opacity="0.67"/><ellipse cx="0.52" cy="19.62" rx="0.81" ry="0.89" fill="url(#lw)" opacity="0.49"/></g></g><g transform="translate(242.5,100.5) scale(0.909,1.125)"><use href="#ms" fill="url(#mw)"/><g clip-path="url(#mc)"><ellipse cx="0" cy="8" rx="2" ry="2" fill="url(#ps)"/><ellipse cx="0" cy="18" rx="5.5" ry="6" fill="url(#ps)"/><ellipse cx="3.30" cy="20.70" rx="0.51" ry="0.54" fill="url(#lw)" opacity="0.53"/><ellipse cx="1.56" cy="18.34" rx="0.61" ry="0.60" fill="url(#lw)" opacity="0.81"/><ellipse cx="1.67" cy="18.99" rx="0.99" ry="1.12" fill="url(#lw)" opacity="0.41"/><ellipse cx="0.22" cy="19.76" rx="1.13" ry="1.14" fill="url(#lw)" opacity="0.52"/><ellipse cx="-2.40" cy="18.33" rx="0.60" ry="0.71" fill="url(#lw)" opacity="0.72"/><ellipse cx="-2.59" cy="18.41" rx="1.04" ry="1.42" fill="url(#lw)" opacity="0.68"/><ellipse cx="-1" cy="15" rx="1.5" ry="1.2" fill="url(#lw)"/></g></g><g transform="translate(257.5,73.5) scale(0.818,0.958)"><use href="#ms" fill="url(#mw)"/><g clip-path="url(#mc)"><ellipse cx="0" cy="8" rx="3" ry="2.5" fill="url(#ps)"/><ellipse cx="1.31" cy="8.31" rx="0.96" ry="0.90" fill="url(#lw)" opacity="0.71"/><ellipse cx="2" cy="13" rx="2" ry="2" fill="url(#pu)"/><ellipse cx="0" cy="19" rx="5" ry="3.5" fill="url(#ps)"/><ellipse cx="-1.79" cy="20.37" rx="0.93" ry="1.09" fill="url(#lw)" opacity="0.82"/><ellipse cx="-0.78" cy="16.99" rx="0.99" ry="0.86" fill="url(#lw)" opacity="0.68"/><ellipse cx="-0.52" cy="18.66" rx="1.03" ry="0.88" fill="url(#lw)" opacity="0.62"/></g></g><g transform="translate(257.5,100.5) scale(0.909,1.125)"><use href="#ms" fill="url(#mw)"/><g clip-path="url(#mc)"><ellipse cx="0" cy="7" rx="3" ry="2.5" fill="url(#ps)"/><ellipse cx="-1.80" cy="6.77" rx="1.04" ry="1.06" fill="url(#lw)" opacity="0.82"/><ellipse cx="-1" cy="11" rx="1.5" ry="1.5" fill="url(#lw)"/><ellipse cx="0" cy="17" rx="5.5" ry="6.5" fill="url(#ps)"/><ellipse cx="-2.56" cy="18.13" rx="1.19" ry="1.11" fill="url(#lw)" opacity="0.72"/><ellipse cx="0.84" cy="16.72" rx="1.04" ry="1.21" fill="url(#lw)" opacity="0.64"/><ellipse cx="0.95" cy="12.58" rx="0.60" ry="0.63" fill="url(#lw)" opacity="0.68"/><ellipse cx="-1.34" cy="12.25" rx="1.06" ry="1.36" fill="url(#lw)" opacity="0.43"/><ellipse cx="-3.64" cy="19.15" rx="1.16" ry="1.43" fill="url(#lw)" opacity="0.55"/><ellipse cx="0.32" cy="13.95" rx="0.97" ry="1.11" fill="url(#lw)" opacity="0.79"/><ellipse cx="-0.96" cy="12.06" rx="0.85" ry="0.88" fill="url(#lw)" opacity="0.70"/></g></g><g transform="translate(273,73.5) scale(0.818,0.958)"><use href="#ms" fill="url(#mw)"/><g clip-path="url(#mc)"><ellipse cx="0" cy="5" rx="1.5" ry="1.5" fill="url(#pu)"/><ellipse cx="-1" cy="11" rx="2.5" ry="3" fill="url(#ps)"/><ellipse cx="-1.31" cy="10.85" rx="1.17" ry="1.08" fill="url(#lw)" opacity="0.62"/><ellipse cx="1" cy="19" rx="4.5" ry="3" fill="url(#ps)"/><ellipse cx="2.01" cy="19.18" rx="1.15" ry="1.03" fill="url(#lw)" opacity="0.53"/><ellipse cx="1.46" cy="18.25" rx="0.97" ry="1.06" fill="url(#lw)" opacity="0.80"/></g></g><g transform="translate(273,100.5) scale(0.909,1.125)"><use href="#ms" fill="url(#mw)"/><g clip-path="url(#mc)"><ellipse cx="0" cy="7" rx="3.5" ry="3" fill="url(#ps)"/><ellipse cx="-1.14" cy="7.14" rx="0.68" ry="0.65" fill="url(#lw)" opacity="0.40"/><ellipse cx="0.52" cy="7.42" rx="0.72" ry="0.89" fill="url(#lw)" opacity="0.82"/><ellipse cx="0" cy="11" rx="3" ry="1.5" fill="url(#lw)"/><ellipse cx="0" cy="18" rx="5.5" ry="6" fill="url(#ps)"/><ellipse cx="-0.92" cy="19.31" rx="0.71" ry="0.80" fill="url(#lw)" opacity="0.62"/><ellipse cx="1.90" cy="19.88" rx="0.69" ry="0.55" fill="url(#lw)" opacity="0.75"/><ellipse cx="1.77" cy="19.50" rx="1.04" ry="1.12" fill="url(#lw)" opacity="0.79"/><ellipse cx="-1.72" cy="22.17" rx="0.53" ry="0.70" fill="url(#lw)" opacity="0.59"/><ellipse cx="1.55" cy="18.03" rx="1.19" ry="1.43" fill="url(#lw)" opacity="0.73"/><ellipse cx="0.22" cy="17.42" rx="0.71" ry="0.73" fill="url(#lw)" opacity="0.81"/></g></g><rect x="204.7" y="130.5" width="11.6" height="22.8" fill="url(#cellp)"/><g transform="translate(210.5,131) scale(0.95,0.93)"><path d="M0,0 C0.9,0 1.6,0.8 1.9,2 C2.4,4 3.4,6.5 4.3,9 C5.1,11.2 5.5,13.5 5.5,16 C5.5,18 5.2,19.6 4.5,20.8 L5.0,23.4 L3.5,23.6 L2.5,21.9 C1.4,22.4 -1.4,22.4 -2.5,21.9 L-3.5,23.6 L-5.0,23.4 L-4.5,20.8 C-5.2,19.6 -5.5,18 -5.5,16 C-5.5,13.5 -5.1,11.2 -4.3,9 C-3.4,6.5 -2.4,4 -1.9,2 C-1.6,0.8 -0.9,0 0,0 Z" fill="#4a30a0" opacity="0.4"/></g><rect x="220.2" y="130.5" width="11.6" height="22.8" fill="url(#cellp)"/><g transform="translate(226,131) scale(0.95,0.93)"><path d="M0,0 C0.9,0 1.6,0.8 1.9,2 C2.4,4 3.4,6.5 4.3,9 C5.1,11.2 5.5,13.5 5.5,16 C5.5,18 5.2,19.6 4.5,20.8 L5.0,23.4 L3.5,23.6 L2.5,21.9 C1.4,22.4 -1.4,22.4 -2.5,21.9 L-3.5,23.6 L-5.0,23.4 L-4.5,20.8 C-5.2,19.6 -5.5,18 -5.5,16 C-5.5,13.5 -5.1,11.2 -4.3,9 C-3.4,6.5 -2.4,4 -1.9,2 C-1.6,0.8 -0.9,0 0,0 Z" fill="#4a30a0" opacity="0.4"/></g><rect x="236.7" y="130.5" width="11.6" height="22.8" fill="url(#cellp)"/><g transform="translate(242.5,131) scale(0.95,0.93)"><path d="M0,0 C0.9,0 1.6,0.8 1.9,2 C2.4,4 3.4,6.5 4.3,9 C5.1,11.2 5.5,13.5 5.5,16 C5.5,18 5.2,19.6 4.5,20.8 L5.0,23.4 L3.5,23.6 L2.5,21.9 C1.4,22.4 -1.4,22.4 -2.5,21.9 L-3.5,23.6 L-5.0,23.4 L-4.5,20.8 C-5.2,19.6 -5.5,18 -5.5,16 C-5.5,13.5 -5.1,11.2 -4.3,9 C-3.4,6.5 -2.4,4 -1.9,2 C-1.6,0.8 -0.9,0 0,0 Z" fill="#4a30a0" opacity="0.4"/></g><rect x="251.7" y="130.5" width="11.6" height="22.8" fill="url(#cellp)"/><g transform="translate(257.5,131) scale(0.95,0.93)"><path d="M0,0 C0.9,0 1.6,0.8 1.9,2 C2.4,4 3.4,6.5 4.3,9 C5.1,11.2 5.5,13.5 5.5,16 C5.5,18 5.2,19.6 4.5,20.8 L5.0,23.4 L3.5,23.6 L2.5,21.9 C1.4,22.4 -1.4,22.4 -2.5,21.9 L-3.5,23.6 L-5.0,23.4 L-4.5,20.8 C-5.2,19.6 -5.5,18 -5.5,16 C-5.5,13.5 -5.1,11.2 -4.3,9 C-3.4,6.5 -2.4,4 -1.9,2 C-1.6,0.8 -0.9,0 0,0 Z" fill="#4a30a0" opacity="0.4"/></g><rect x="267.2" y="130.5" width="11.6" height="22.8" fill="url(#cellp)"/><g transform="translate(273,131) scale(0.95,0.93)"><path d="M0,0 C0.9,0 1.6,0.8 1.9,2 C2.4,4 3.4,6.5 4.3,9 C5.1,11.2 5.5,13.5 5.5,16 C5.5,18 5.2,19.6 4.5,20.8 L5.0,23.4 L3.5,23.6 L2.5,21.9 C1.4,22.4 -1.4,22.4 -2.5,21.9 L-3.5,23.6 L-5.0,23.4 L-4.5,20.8 C-5.2,19.6 -5.5,18 -5.5,16 C-5.5,13.5 -5.1,11.2 -4.3,9 C-3.4,6.5 -2.4,4 -1.9,2 C-1.6,0.8 -0.9,0 0,0 Z" fill="#4a30a0" opacity="0.4"/></g><circle cx="213" cy="148" r="1.2" fill="#c8b8f0" opacity="0.8"/><circle cx="224" cy="147.5" r="1.3" fill="#d8c8f0" opacity="0.8"/><circle cx="226" cy="141" r="0.8" fill="#a890e0" opacity="0.8"/><circle cx="243" cy="150" r="0.8" fill="#a890e0" opacity="0.8"/><circle cx="258" cy="140" r="1.3" fill="#e0b040" opacity="0.8"/><circle cx="256.5" cy="150" r="1.2" fill="#c8b8f0" opacity="0.8"/><circle cx="272" cy="136" r="1.5" fill="#8a70d0" opacity="0.8"/><circle cx="275" cy="148" r="1.2" fill="#b8a8e8" opacity="0.8"/><circle cx="270" cy="143" r="1.0" fill="#9a80d8" opacity="0.8"/><g transform="translate(211,158.8) scale(1.045,1.083)"><use href="#ms" fill="url(#mp)"/><g clip-path="url(#mc)"><ellipse cx="0.17" cy="15.12" rx="0.9" ry="0.96" fill="url(#lw)"/><ellipse cx="-2.77" cy="7.28" rx="1.1" ry="1.25" fill="url(#lw)"/><ellipse cx="-1.35" cy="17.0" rx="0.65" ry="0.64" fill="url(#lw)"/><ellipse cx="-0.33" cy="8.59" rx="1.07" ry="1.1" fill="url(#lw)"/><ellipse cx="-1.37" cy="4.49" rx="0.76" ry="0.8" fill="url(#lw)"/><ellipse cx="2.86" cy="5.69" rx="1.09" ry="1.19" fill="url(#lw)"/><ellipse cx="-1" cy="4" rx="1.5" ry="2" fill="url(#lw)"/><ellipse cx="1.5" cy="8" rx="1.2" ry="1.5" fill="url(#lw)"/><ellipse cx="-3" cy="12" rx="1.5" ry="1.5" fill="url(#hg)"/><ellipse cx="-3" cy="15.5" rx="2" ry="2" fill="url(#ht)"/><g transform="translate(0.5,18) scale(4,4.4)"><use href="#hp" fill="none" stroke="#3050c8" stroke-width="3.4" stroke-opacity="0.75"/><use href="#hp" fill="none" stroke="#58b050" stroke-width="2.5"/><use href="#hp" fill="none" stroke="#e4d040" stroke-width="1.7"/><use href="#hp" fill="#d21e1e" stroke="#e06a22" stroke-width="0.9"/></g></g></g><g transform="translate(211,188.4) scale(1.091,1.058)"><use href="#ms" fill="url(#mp)"/><g clip-path="url(#mc)"><ellipse cx="-3.18" cy="19.0" rx="1.06" ry="1.24" fill="url(#lw)"/><ellipse cx="2.73" cy="13.41" rx="0.67" ry="0.81" fill="url(#lw)"/><ellipse cx="2.47" cy="11.69" rx="0.54" ry="0.41" fill="url(#lw)"/><ellipse cx="-1.87" cy="8.65" rx="0.8" ry="0.67" fill="url(#lw)"/><ellipse cx="-0.66" cy="3.18" rx="0.9" ry="0.85" fill="url(#lw)"/><ellipse cx="-0.93" cy="5.65" rx="0.52" ry="0.41" fill="url(#lw)"/><ellipse cx="-0.5" cy="6" rx="3.2" ry="3.6" fill="url(#ht)"/><g transform="translate(0,16.5) scale(6,7)"><use href="#hp" fill="none" stroke="#3050c8" stroke-width="3.4" stroke-opacity="0.75"/><use href="#hp" fill="none" stroke="#58b050" stroke-width="2.5"/><use href="#hp" fill="none" stroke="#e4d040" stroke-width="1.7"/><use href="#hp" fill="#d21e1e" stroke="#e06a22" stroke-width="0.9"/></g></g></g><g transform="translate(226.2,158.8) scale(1.045,1.083)"><use href="#ms" fill="url(#mp)"/><g clip-path="url(#mc)"><ellipse cx="3.36" cy="8.81" rx="1.05" ry="1.36" fill="url(#lw)"/><ellipse cx="2.56" cy="11.69" rx="1.03" ry="0.94" fill="url(#lw)"/><ellipse cx="-0.06" cy="17.11" rx="0.58" ry="0.79" fill="url(#lw)"/><ellipse cx="-2.23" cy="11.02" rx="1.04" ry="1.38" fill="url(#lw)"/><ellipse cx="-2.04" cy="7.22" rx="0.54" ry="0.57" fill="url(#lw)"/><ellipse cx="-3.15" cy="10.66" rx="1.0" ry="1.12" fill="url(#lw)"/><ellipse cx="1" cy="3" rx="1.5" ry="1.5" fill="url(#lw)"/><ellipse cx="-1" cy="5.5" rx="1.2" ry="1.2" fill="url(#lw)"/><ellipse cx="2" cy="7" rx="1.5" ry="1.5" fill="url(#ht)"/><ellipse cx="2" cy="11" rx="1.5" ry="1.5" fill="url(#lw)"/><g transform="translate(0,18) scale(4.2,4.4)"><use href="#hp" fill="none" stroke="#3050c8" stroke-width="3.4" stroke-opacity="0.75"/><use href="#hp" fill="none" stroke="#58b050" stroke-width="2.5"/><use href="#hp" fill="none" stroke="#e4d040" stroke-width="1.7"/><use href="#hp" fill="#d21e1e" stroke="#e06a22" stroke-width="0.9"/></g></g></g><g transform="translate(226.2,188.4) scale(1.091,1.058)"><use href="#ms" fill="url(#mp)"/><g clip-path="url(#mc)"><ellipse cx="-3.28" cy="18.85" rx="0.56" ry="0.47" fill="url(#lw)"/><ellipse cx="3.13" cy="13.74" rx="0.95" ry="1.29" fill="url(#lw)"/><ellipse cx="0.11" cy="9.71" rx="0.66" ry="0.65" fill="url(#lw)"/><ellipse cx="-1.07" cy="9.21" rx="0.6" ry="0.52" fill="url(#lw)"/><ellipse cx="1.09" cy="19.36" rx="0.91" ry="0.66" fill="url(#lw)"/><ellipse cx="3.04" cy="16.09" rx="0.54" ry="0.49" fill="url(#lw)"/><ellipse cx="0" cy="5" rx="2.8" ry="3.2" fill="url(#hg)"/><ellipse cx="0.5" cy="7" rx="2" ry="2.2" fill="url(#ht)"/><ellipse cx="-2" cy="10" rx="1.2" ry="1.2" fill="url(#lw)"/><g transform="translate(0,17) scale(6,6.5)"><use href="#hp" fill="none" stroke="#3050c8" stroke-width="3.4" stroke-opacity="0.75"/><use href="#hp" fill="none" stroke="#58b050" stroke-width="2.5"/><use href="#hp" fill="none" stroke="#e4d040" stroke-width="1.7"/><use href="#hp" fill="#d21e1e" stroke="#e06a22" stroke-width="0.9"/></g></g></g><g transform="translate(242.6,158.8) scale(1.045,1.083)"><use href="#ms" fill="url(#mp)"/><g clip-path="url(#mc)"><ellipse cx="-3.17" cy="11.26" rx="0.63" ry="0.73" fill="url(#lw)"/><ellipse cx="-0.05" cy="6.07" rx="1.03" ry="1.39" fill="url(#lw)"/><ellipse cx="-1.06" cy="10.42" rx="0.67" ry="0.83" fill="url(#lw)"/><ellipse cx="-2.71" cy="3.66" rx="1.07" ry="1.46" fill="url(#lw)"/><ellipse cx="1.56" cy="10.7" rx="0.62" ry="0.53" fill="url(#lw)"/><ellipse cx="1.68" cy="16.55" rx="0.87" ry="0.9" fill="url(#lw)"/><ellipse cx="0.5" cy="4" rx="2" ry="2.2" fill="url(#hg)"/><ellipse cx="-2" cy="9" rx="1.5" ry="2.5" fill="url(#lw)"/><ellipse cx="1" cy="12" rx="1.5" ry="1.2" fill="url(#lw)"/><ellipse cx="-3" cy="15" rx="1.6" ry="1.6" fill="url(#hg)"/><g transform="translate(1,18) scale(3.8,4.2)"><use href="#hp" fill="none" stroke="#3050c8" stroke-width="3.4" stroke-opacity="0.75"/><use href="#hp" fill="none" stroke="#58b050" stroke-width="2.5"/><use href="#hp" fill="none" stroke="#e4d040" stroke-width="1.7"/><use href="#hp" fill="#d21e1e" stroke="#e06a22" stroke-width="0.9"/></g></g></g><g transform="translate(242.6,188.4) scale(1.091,1.058)"><use href="#ms" fill="url(#mp)"/><g clip-path="url(#mc)"><ellipse cx="1.31" cy="8.92" rx="0.65" ry="0.47" fill="url(#lw)"/><ellipse cx="-2.15" cy="10.5" rx="0.59" ry="0.42" fill="url(#lw)"/><ellipse cx="0.85" cy="13.61" rx="0.97" ry="1.17" fill="url(#lw)"/><ellipse cx="3.13" cy="10.9" rx="0.98" ry="1.32" fill="url(#lw)"/><ellipse cx="0.02" cy="11.78" rx="0.91" ry="0.94" fill="url(#lw)"/><ellipse cx="-0.99" cy="8.36" rx="0.68" ry="0.77" fill="url(#lw)"/><ellipse cx="0" cy="6.5" rx="3.2" ry="3.6" fill="url(#ht)"/><g transform="translate(0,16.8) scale(6,6.8)"><use href="#hp" fill="none" stroke="#3050c8" stroke-width="3.4" stroke-opacity="0.75"/><use href="#hp" fill="none" stroke="#58b050" stroke-width="2.5"/><use href="#hp" fill="none" stroke="#e4d040" stroke-width="1.7"/><use href="#hp" fill="#d21e1e" stroke="#e06a22" stroke-width="0.9"/></g></g></g><g transform="translate(258.2,158.8) scale(1.045,1.083)"><use href="#ms" fill="url(#mp)"/><g clip-path="url(#mc)"><ellipse cx="1.66" cy="8.8" rx="0.66" ry="0.61" fill="url(#lw)"/><ellipse cx="-2.53" cy="17.98" rx="0.67" ry="0.76" fill="url(#lw)"/><ellipse cx="-1.49" cy="19.0" rx="0.87" ry="1.04" fill="url(#lw)"/><ellipse cx="3.42" cy="6.31" rx="0.85" ry="0.98" fill="url(#lw)"/><ellipse cx="1.23" cy="19.34" rx="0.92" ry="0.79" fill="url(#lw)"/><ellipse cx="-3.34" cy="15.09" rx="0.71" ry="0.72" fill="url(#lw)"/><ellipse cx="0" cy="3" rx="1.5" ry="1.5" fill="url(#lw)"/><ellipse cx="1" cy="9" rx="1.5" ry="1.5" fill="url(#lw)"/><ellipse cx="-2" cy="12" rx="1" ry="1" fill="url(#lw)"/><g transform="translate(0,18) scale(4.2,4.4)"><use href="#hp" fill="none" stroke="#3050c8" stroke-width="3.4" stroke-opacity="0.75"/><use href="#hp" fill="none" stroke="#58b050" stroke-width="2.5"/><use href="#hp" fill="none" stroke="#e4d040" stroke-width="1.7"/><use href="#hp" fill="#d21e1e" stroke="#e06a22" stroke-width="0.9"/></g></g></g><g transform="translate(258.2,188.4) scale(1.091,1.058)"><use href="#ms" fill="url(#mp)"/><g clip-path="url(#mc)"><ellipse cx="-2.64" cy="20.2" rx="0.82" ry="1.0" fill="url(#lw)"/><ellipse cx="-0.2" cy="9.69" rx="0.96" ry="1.05" fill="url(#lw)"/><ellipse cx="2.47" cy="20.76" rx="0.8" ry="0.79" fill="url(#lw)"/><ellipse cx="0.57" cy="13.78" rx="1.09" ry="1.23" fill="url(#lw)"/><ellipse cx="1.09" cy="7.72" rx="0.55" ry="0.42" fill="url(#lw)"/><ellipse cx="3.35" cy="14.84" rx="0.78" ry="0.86" fill="url(#lw)"/><ellipse cx="0" cy="5" rx="2.8" ry="2.8" fill="url(#ht)"/><ellipse cx="0" cy="10" rx="3" ry="2" fill="url(#hg)"/><g transform="translate(0,16.8) scale(6,7)"><use href="#hp" fill="none" stroke="#3050c8" stroke-width="3.4" stroke-opacity="0.75"/><use href="#hp" fill="none" stroke="#58b050" stroke-width="2.5"/><use href="#hp" fill="none" stroke="#e4d040" stroke-width="1.7"/><use href="#hp" fill="#d21e1e" stroke="#e06a22" stroke-width="0.9"/></g></g></g><g transform="translate(273.6,158.8) scale(1.045,1.083)"><use href="#ms" fill="url(#mp)"/><g clip-path="url(#mc)"><ellipse cx="2.03" cy="13.59" rx="1.09" ry="0.94" fill="url(#lw)"/><ellipse cx="1.38" cy="7.92" rx="0.5" ry="0.56" fill="url(#lw)"/><ellipse cx="-2.58" cy="16.67" rx="0.63" ry="0.73" fill="url(#lw)"/><ellipse cx="2.21" cy="16.46" rx="0.96" ry="0.93" fill="url(#lw)"/><ellipse cx="-2.58" cy="16.16" rx="0.71" ry="0.56" fill="url(#lw)"/><ellipse cx="0.33" cy="13.59" rx="0.85" ry="0.66" fill="url(#lw)"/><ellipse cx="1" cy="3" rx="1.5" ry="1.5" fill="url(#lw)"/><ellipse cx="-1" cy="8" rx="1.5" ry="1.5" fill="url(#lw)"/><ellipse cx="-2.5" cy="14" rx="2.2" ry="2" fill="url(#hg)"/><g transform="translate(1,17.5) scale(4,4.4)"><use href="#hp" fill="none" stroke="#3050c8" stroke-width="3.4" stroke-opacity="0.75"/><use href="#hp" fill="none" stroke="#58b050" stroke-width="2.5"/><use href="#hp" fill="none" stroke="#e4d040" stroke-width="1.7"/><use href="#hp" fill="#d21e1e" stroke="#e06a22" stroke-width="0.9"/></g></g></g><g transform="translate(273.6,188.4) scale(1.091,1.058)"><use href="#ms" fill="url(#mp)"/><g clip-path="url(#mc)"><ellipse cx="1.09" cy="11.82" rx="0.99" ry="0.92" fill="url(#lw)"/><ellipse cx="-3.24" cy="6.06" rx="0.72" ry="0.84" fill="url(#lw)"/><ellipse cx="-0.64" cy="7.8" rx="0.91" ry="0.88" fill="url(#lw)"/><ellipse cx="0.73" cy="11.99" rx="0.89" ry="1.01" fill="url(#lw)"/><ellipse cx="-1.89" cy="12.87" rx="0.86" ry="1.16" fill="url(#lw)"/><ellipse cx="1.62" cy="10.84" rx="0.85" ry="0.77" fill="url(#lw)"/><ellipse cx="0" cy="5.5" rx="2.8" ry="3.6" fill="url(#ht)"/><ellipse cx="-1" cy="9" rx="2" ry="2" fill="url(#hg)"/><g transform="translate(0,17) scale(5.8,6.6)"><use href="#hp" fill="none" stroke="#3050c8" stroke-width="3.4" stroke-opacity="0.75"/><use href="#hp" fill="none" stroke="#58b050" stroke-width="2.5"/><use href="#hp" fill="none" stroke="#e4d040" stroke-width="1.7"/><use href="#hp" fill="#d21e1e" stroke="#e06a22" stroke-width="0.9"/></g></g></g><g transform="translate(226.2,220.6) scale(1.045,1.042)"><use href="#ms" fill="url(#mp)"/><g clip-path="url(#mc)"><ellipse cx="1.29" cy="4.27" rx="1.01" ry="0.81" fill="url(#lw)"/><ellipse cx="3.43" cy="9.1" rx="0.73" ry="0.58" fill="url(#lw)"/><ellipse cx="3.05" cy="8.91" rx="0.9" ry="1.03" fill="url(#lw)"/><ellipse cx="2.65" cy="6.48" rx="0.98" ry="1.06" fill="url(#lw)"/><ellipse cx="2.73" cy="3.47" rx="0.82" ry="1.07" fill="url(#lw)"/><ellipse cx="-1.04" cy="16.52" rx="0.91" ry="0.91" fill="url(#lw)"/><ellipse cx="0" cy="1.5" rx="1.5" ry="1.5" fill="url(#lw)"/><ellipse cx="-1" cy="5" rx="2.5" ry="2" fill="url(#lw)"/><ellipse cx="1.5" cy="8" rx="2" ry="2" fill="url(#lw)"/><ellipse cx="-1.5" cy="10.5" rx="1.5" ry="1.5" fill="url(#lw)"/><g transform="translate(0,17.5) scale(6,6)"><use href="#hp" fill="none" stroke="#3050c8" stroke-width="3.4" stroke-opacity="0.75"/><use href="#hp" fill="none" stroke="#58b050" stroke-width="2.5"/><use href="#hp" fill="none" stroke="#e4d040" stroke-width="1.7"/><use href="#hp" fill="#d21e1e" stroke="#e06a22" stroke-width="0.9"/></g></g></g><g transform="translate(244.6,220.6) scale(1.045,1.042)"><use href="#ms" fill="url(#mp)"/><g clip-path="url(#mc)"><ellipse cx="-2.45" cy="6.64" rx="0.88" ry="0.64" fill="url(#lw)"/><ellipse cx="-1.96" cy="13.98" rx="1.07" ry="1.2" fill="url(#lw)"/><ellipse cx="-1.64" cy="16.15" rx="1.04" ry="1.16" fill="url(#lw)"/><ellipse cx="-2.16" cy="19.29" rx="1.03" ry="1.21" fill="url(#lw)"/><ellipse cx="-1.08" cy="7.37" rx="0.72" ry="1.0" fill="url(#lw)"/><ellipse cx="-2.17" cy="20.1" rx="0.8" ry="0.98" fill="url(#lw)"/><ellipse cx="0" cy="2" rx="1.5" ry="1.5" fill="url(#lw)"/><ellipse cx="1" cy="6" rx="2" ry="2" fill="url(#lw)"/><ellipse cx="-1.5" cy="9" rx="1.5" ry="1.5" fill="url(#lw)"/><ellipse cx="0" cy="13" rx="5" ry="1.5" fill="url(#lw)"/><ellipse cx="0" cy="17.5" rx="4.8" ry="4" fill="url(#hg)"/><ellipse cx="1" cy="17.5" rx="2.4" ry="2.4" fill="url(#ht)"/></g></g><g transform="translate(260,220.6) scale(1.045,1.042)"><use href="#ms" fill="url(#mp)"/><g clip-path="url(#mc)"><ellipse cx="2.76" cy="13.96" rx="1.01" ry="1.21" fill="url(#lw)"/><ellipse cx="-2.7" cy="18.58" rx="1.0" ry="0.71" fill="url(#lw)"/><ellipse cx="0.97" cy="13.15" rx="0.99" ry="0.76" fill="url(#lw)"/><ellipse cx="0.57" cy="12.49" rx="0.97" ry="1.07" fill="url(#lw)"/><ellipse cx="-2.99" cy="13.07" rx="0.91" ry="0.83" fill="url(#lw)"/><ellipse cx="-3.49" cy="9.73" rx="0.65" ry="0.68" fill="url(#lw)"/><ellipse cx="0" cy="2" rx="1.5" ry="1.5" fill="url(#lw)"/><ellipse cx="-1" cy="6" rx="2.5" ry="2" fill="url(#lw)"/><ellipse cx="1.5" cy="8" rx="1.5" ry="1.5" fill="url(#lw)"/><ellipse cx="0" cy="12" rx="5" ry="1.5" fill="url(#lw)"/><g transform="translate(0,18) scale(6,6)"><use href="#hp" fill="none" stroke="#3050c8" stroke-width="3.4" stroke-opacity="0.75"/><use href="#hp" fill="none" stroke="#58b050" stroke-width="2.5"/><use href="#hp" fill="none" stroke="#e4d040" stroke-width="1.7"/><use href="#hp" fill="#d21e1e" stroke="#e06a22" stroke-width="0.9"/></g></g></g><g transform="translate(275.4,220.6) scale(1.045,1.042)"><use href="#ms" fill="url(#mp)"/><g clip-path="url(#mc)"><ellipse cx="-2.07" cy="6.98" rx="0.83" ry="0.83" fill="url(#lw)"/><ellipse cx="-0.18" cy="15.31" rx="0.66" ry="0.74" fill="url(#lw)"/><ellipse cx="-2.26" cy="6.54" rx="0.94" ry="0.91" fill="url(#lw)"/><ellipse cx="-0.26" cy="6.78" rx="1.09" ry="1.51" fill="url(#lw)"/><ellipse cx="-0.21" cy="7.87" rx="0.72" ry="0.97" fill="url(#lw)"/><ellipse cx="-0.87" cy="5.05" rx="0.96" ry="1.15" fill="url(#lw)"/><ellipse cx="0" cy="6.5" rx="4.5" ry="1.6" fill="url(#hg)"/><ellipse cx="0" cy="3" rx="1.5" ry="1.2" fill="url(#lw)"/><g transform="translate(0,16.5) scale(6,7)"><use href="#hp" fill="none" stroke="#3050c8" stroke-width="3.4" stroke-opacity="0.75"/><use href="#hp" fill="none" stroke="#58b050" stroke-width="2.5"/><use href="#hp" fill="none" stroke="#e4d040" stroke-width="1.7"/><use href="#hp" fill="#d21e1e" stroke="#e06a22" stroke-width="0.9"/></g></g></g><g transform="translate(244.2,253) scale(1.045,1.062)"><use href="#ms" fill="url(#mp)"/><g clip-path="url(#mc)"><ellipse cx="-1.46" cy="7.58" rx="0.59" ry="0.46" fill="url(#lw)"/><ellipse cx="-1.16" cy="5.99" rx="0.91" ry="0.97" fill="url(#lw)"/><ellipse cx="-2.21" cy="10.77" rx="0.6" ry="0.53" fill="url(#lw)"/><ellipse cx="-0.97" cy="18.05" rx="1.09" ry="1.29" fill="url(#lw)"/><ellipse cx="-1.1" cy="4.91" rx="0.69" ry="0.96" fill="url(#lw)"/><ellipse cx="2.76" cy="5.58" rx="1.05" ry="0.93" fill="url(#lw)"/><ellipse cx="0" cy="4.5" rx="2.2" ry="2.2" fill="url(#ht)"/><ellipse cx="-1" cy="6" rx="1.5" ry="1.5" fill="url(#hg)"/><ellipse cx="0" cy="12.5" rx="4.5" ry="1.2" fill="url(#lw)"/><g transform="translate(0,18.5) scale(6,5.8)"><use href="#hp" fill="none" stroke="#3050c8" stroke-width="3.4" stroke-opacity="0.75"/><use href="#hp" fill="none" stroke="#58b050" stroke-width="2.5"/><use href="#hp" fill="none" stroke="#e4d040" stroke-width="1.7"/><use href="#hp" fill="#d21e1e" stroke="#e06a22" stroke-width="0.9"/></g></g></g><g transform="translate(275.8,253.5) scale(1.045,1.042)"><use href="#ms" fill="url(#mp)"/><g clip-path="url(#mc)"><ellipse cx="-0.5" cy="3.56" rx="0.66" ry="0.66" fill="url(#lw)"/><ellipse cx="1.8" cy="9.62" rx="1.03" ry="1.23" fill="url(#lw)"/><ellipse cx="2.69" cy="11.35" rx="0.82" ry="0.73" fill="url(#lw)"/><ellipse cx="3.01" cy="7.1" rx="1.06" ry="1.09" fill="url(#lw)"/><ellipse cx="1.91" cy="7.8" rx="1.01" ry="1.38" fill="url(#lw)"/><ellipse cx="-0.43" cy="4.35" rx="0.81" ry="0.71" fill="url(#lw)"/><ellipse cx="0" cy="2" rx="1.5" ry="1.5" fill="url(#lw)"/><ellipse cx="-1" cy="9" rx="2" ry="2" fill="url(#lw)"/><ellipse cx="1.5" cy="12" rx="1.5" ry="1.8" fill="url(#lw)"/><ellipse cx="0" cy="17" rx="4.5" ry="2.5" fill="url(#hg)"/><ellipse cx="1" cy="18" rx="2" ry="1.8" fill="url(#ht)"/></g></g></g><line x1="62.5" y1="41.5" x2="114" y2="41.5" stroke="#333" stroke-width="0.9"/><line x1="131" y1="41.5" x2="192.5" y2="41.5" stroke="#333" stroke-width="0.9"/><line x1="205" y1="41.5" x2="283" y2="41.5" stroke="#333" stroke-width="0.9"/><text x="7" y="17" font-size="11.5" text-anchor="start" font-weight="bold" fill="#111" >A</text><text x="36.8" y="29.4" font-size="9.4" text-anchor="middle" font-weight="normal" fill="#1e1e1e" stroke="#1e1e1e" stroke-width="0.18" >Challenge</text><text x="36.9" y="41.6" font-size="9.4" text-anchor="middle" font-weight="normal" fill="#1e1e1e" stroke="#1e1e1e" stroke-width="0.18" >treatment</text><text x="87.3" y="37.7" font-size="9.4" text-anchor="middle" font-weight="normal" fill="#1e1e1e" stroke="#1e1e1e" stroke-width="0.18" >Vehicle</text><text x="161.5" y="37.7" font-size="9.4" text-anchor="middle" font-weight="normal" fill="#1e1e1e" stroke="#1e1e1e" stroke-width="0.18" >rhIL-7-hyFc</text><text x="244" y="37.7" font-size="9.4" text-anchor="middle" font-weight="normal" fill="#1e1e1e" stroke="#1e1e1e" stroke-width="0.18" >NSG Control</text><text x="60" y="90.7" font-size="8.5" text-anchor="end" font-weight="normal" fill="#1e1e1e" stroke="#1e1e1e" stroke-width="0.18" >1</text><text x="60" y="116.7" font-size="8.5" text-anchor="end" font-weight="normal" fill="#1e1e1e" stroke="#1e1e1e" stroke-width="0.18" >2</text><text x="60" y="143.7" font-size="8.5" text-anchor="end" font-weight="normal" fill="#1e1e1e" stroke="#1e1e1e" stroke-width="0.18" >3</text><text x="60" y="171.2" font-size="8.5" text-anchor="end" font-weight="normal" fill="#1e1e1e" stroke="#1e1e1e" stroke-width="0.18" >4</text><text x="60" y="202.2" font-size="8.5" text-anchor="end" font-weight="normal" fill="#1e1e1e" stroke="#1e1e1e" stroke-width="0.18" >5</text><text x="60" y="237.2" font-size="8.5" text-anchor="end" font-weight="normal" fill="#1e1e1e" stroke="#1e1e1e" stroke-width="0.18" >6</text><text x="60" y="275.2" font-size="8.5" text-anchor="end" font-weight="normal" fill="#1e1e1e" stroke="#1e1e1e" stroke-width="0.18" >7</text><text x="60" y="309.2" font-size="8.5" text-anchor="end" font-weight="normal" fill="#1e1e1e" stroke="#1e1e1e" stroke-width="0.18" >8</text><text x="60" y="337.2" font-size="8.5" text-anchor="end" font-weight="normal" fill="#1e1e1e" stroke="#1e1e1e" stroke-width="0.18" >9</text><text x="60" y="370.2" font-size="8.5" text-anchor="end" font-weight="normal" fill="#1e1e1e" stroke="#1e1e1e" stroke-width="0.18" >11</text><text x="60" y="403.7" font-size="8.5" text-anchor="end" font-weight="normal" fill="#1e1e1e" stroke="#1e1e1e" stroke-width="0.18" >13</text><text x="60" y="433.2" font-size="8.5" text-anchor="end" font-weight="normal" fill="#1e1e1e" stroke="#1e1e1e" stroke-width="0.18" >15</text><text x="60.5" y="63.2" font-size="8.5" text-anchor="end" font-weight="normal" fill="#1e1e1e" stroke="#1e1e1e" stroke-width="0.18" >Week: 0</text><line x1="291.5" y1="48" x2="291.5" y2="145" stroke="#999" stroke-width="0.8"/><rect x="293" y="56" width="7" height="86" fill="url(#cb)"/><text x="292.5" y="54.5" font-size="8" text-anchor="start" fill="#222">10<tspan dy="-3.2" font-size="5.6">7</tspan></text><text x="292.5" y="151" font-size="8" text-anchor="start" fill="#222">10<tspan dy="-3.2" font-size="5.6">4</tspan></text><line x1="291" y1="161.5" x2="291" y2="213" stroke="#999" stroke-width="0.8"/><rect x="294" y="163.5" width="4" height="42.5" fill="url(#cb)"/><text x="293" y="162.5" font-size="8" text-anchor="start" fill="#222">10<tspan dy="-3.2" font-size="5.6">7</tspan></text><text x="293" y="213" font-size="8" fill="#222">3×10<tspan dy="-3.2" font-size="5.6">5</tspan></text><line x1="291" y1="219" x2="291" y2="438.5" stroke="#999" stroke-width="0.8"/><rect x="294.5" y="236.5" width="11.5" height="197.5" fill="url(#cb)"/><line x1="306" y1="236.5" x2="306" y2="434" stroke="#888" stroke-width="0.6" stroke-dasharray="1 1"/><text x="295" y="231.5" font-size="8" text-anchor="start" fill="#222">10<tspan dy="-3.2" font-size="5.6">8</tspan></text><text x="296" y="445.5" font-size="7.5" fill="#222">5×10<tspan dy="-3" font-size="5.2">5</tspan></text><text x="339.5" y="16.8" font-size="11.5" text-anchor="start" font-weight="bold" fill="#111" >B</text><text x="339.5" y="190" font-size="11.5" text-anchor="start" font-weight="bold" fill="#111" >C</text><text x="339" y="330" font-size="11.5" text-anchor="start" font-weight="bold" fill="#111" >D</text><line x1="368.2" y1="69.5" x2="368.2" y2="151.5" stroke="#111" stroke-width="1.3"/><line x1="367.6" y1="151.5" x2="484" y2="151.5" stroke="#111" stroke-width="1.3"/><line x1="365.5" y1="151.5" x2="368.2" y2="151.5" stroke="#111" stroke-width="0.9"/><text x="357" y="155.8" font-size="7.8" text-anchor="end" fill="#1e1e1e" stroke="#1e1e1e" stroke-width="0.15" >10</text><text x="358" y="152.1" font-size="5.2" text-anchor="start" fill="#1e1e1e" stroke="#1e1e1e" stroke-width="0.1" >6</text><line x1="365.5" y1="135.6" x2="368.2" y2="135.6" stroke="#111" stroke-width="0.9"/><text x="357" y="139.9" font-size="7.8" text-anchor="end" fill="#1e1e1e" stroke="#1e1e1e" stroke-width="0.15" >10</text><text x="358" y="136.2" font-size="5.2" text-anchor="start" fill="#1e1e1e" stroke="#1e1e1e" stroke-width="0.1" >7</text><line x1="365.5" y1="119.7" x2="368.2" y2="119.7" stroke="#111" stroke-width="0.9"/><text x="357" y="124.0" font-size="7.8" text-anchor="end" fill="#1e1e1e" stroke="#1e1e1e" stroke-width="0.15" >10</text><text x="358" y="120.3" font-size="5.2" text-anchor="start" fill="#1e1e1e" stroke="#1e1e1e" stroke-width="0.1" >8</text><line x1="365.5" y1="103.8" x2="368.2" y2="103.8" stroke="#111" stroke-width="0.9"/><text x="357" y="108.1" font-size="7.8" text-anchor="end" fill="#1e1e1e" stroke="#1e1e1e" stroke-width="0.15" >10</text><text x="358" y="104.39999999999999" font-size="5.2" text-anchor="start" fill="#1e1e1e" stroke="#1e1e1e" stroke-width="0.1" >9</text><line x1="365.5" y1="87.9" x2="368.2" y2="87.9" stroke="#111" stroke-width="0.9"/><text x="357" y="92.2" font-size="7.8" text-anchor="end" fill="#1e1e1e" stroke="#1e1e1e" stroke-width="0.15" >10</text><text x="358" y="88.5" font-size="5.2" text-anchor="start" fill="#1e1e1e" stroke="#1e1e1e" stroke-width="0.1" >10</text><line x1="365.5" y1="72.0" x2="368.2" y2="72.0" stroke="#111" stroke-width="0.9"/><text x="357" y="76.3" font-size="7.8" text-anchor="end" fill="#1e1e1e" stroke="#1e1e1e" stroke-width="0.15" >10</text><text x="358" y="72.6" font-size="5.2" text-anchor="start" fill="#1e1e1e" stroke="#1e1e1e" stroke-width="0.1" >11</text><line x1="368.2" y1="151.5" x2="368.2" y2="154" stroke="#111" stroke-width="0.9"/><text x="368.2" y="162.6" font-size="8" text-anchor="middle" fill="#1e1e1e" stroke="#1e1e1e" stroke-width="0.15" >0</text><line x1="405.7" y1="151.5" x2="405.7" y2="154" stroke="#111" stroke-width="0.9"/><text x="405.7" y="162.6" font-size="8" text-anchor="middle" fill="#1e1e1e" stroke="#1e1e1e" stroke-width="0.15" >5</text><line x1="443.2" y1="151.5" x2="443.2" y2="154" stroke="#111" stroke-width="0.9"/><text x="443.2" y="162.6" font-size="8" text-anchor="middle" fill="#1e1e1e" stroke="#1e1e1e" stroke-width="0.15" >10</text><line x1="480.7" y1="151.5" x2="480.7" y2="154" stroke="#111" stroke-width="0.9"/><text x="480.7" y="162.6" font-size="8" text-anchor="middle" fill="#1e1e1e" stroke="#1e1e1e" stroke-width="0.15" >15</text><text x="426.5" y="172.6" font-size="9" text-anchor="middle" fill="#1e1e1e" stroke="#1e1e1e" stroke-width="0.3" transform="translate(426.5 0) scale(0.76 1) translate(-426.5 0)" >Time (weeks)</text><text x="0" y="0" font-size="9" text-anchor="middle" fill="#1e1e1e" stroke="#1e1e1e" stroke-width="0.3" transform="translate(345.6 110.5) rotate(-90) scale(0.76 1)" >Photon flux</text><polyline points="368.8,150.4 376.0,146.0 384.0,138.0 391.0,124.0 398.5,106.0 403.0,99.0" fill="none" stroke="#c8c8cc" stroke-width="1.1" stroke-linejoin="round"/><polyline points="368.8,150.4 376.0,144.0 383.5,133.0 391.0,118.0 398.5,100.0 406.0,88.7 413.7,84.0 420.4,79.4 428.5,73.5" fill="none" stroke="#b4b4bc" stroke-width="1.1" stroke-linejoin="round"/><circle cx="376.0" cy="144.0" r="1.2" fill="#b4b4bc"/><circle cx="383.5" cy="133.0" r="1.2" fill="#b4b4bc"/><circle cx="391.0" cy="118.0" r="1.2" fill="#b4b4bc"/><circle cx="398.5" cy="100.0" r="1.2" fill="#b4b4bc"/><circle cx="406.0" cy="88.7" r="1.2" fill="#b4b4bc"/><circle cx="413.7" cy="84.0" r="1.2" fill="#b4b4bc"/><circle cx="420.4" cy="79.4" r="1.2" fill="#b4b4bc"/><circle cx="428.5" cy="73.5" r="1.2" fill="#b4b4bc"/><polyline points="368.8,150.4 376.0,145.0 383.5,136.0 391.0,121.0 398.5,102.7 406.0,110.2 413.3,95.7 420.4,94.7 428.6,82.4 435.8,84.5 451.0,84.0 466.5,84.0 481.4,81.4" fill="none" stroke="#b4b4bc" stroke-width="1.0" stroke-linejoin="round"/><circle cx="376.0" cy="145.0" r="1.2" fill="#b4b4bc"/><circle cx="383.5" cy="136.0" r="1.2" fill="#b4b4bc"/><circle cx="391.0" cy="121.0" r="1.2" fill="#b4b4bc"/><circle cx="398.5" cy="102.7" r="1.2" fill="#b4b4bc"/><circle cx="406.0" cy="110.2" r="1.2" fill="#b4b4bc"/><circle cx="413.3" cy="95.7" r="1.2" fill="#b4b4bc"/><circle cx="420.4" cy="94.7" r="1.2" fill="#b4b4bc"/><circle cx="428.6" cy="82.4" r="1.2" fill="#b4b4bc"/><circle cx="435.8" cy="84.5" r="1.2" fill="#b4b4bc"/><circle cx="451.0" cy="84.0" r="1.2" fill="#b4b4bc"/><circle cx="466.5" cy="84.0" r="1.2" fill="#b4b4bc"/><circle cx="481.4" cy="81.4" r="1.2" fill="#b4b4bc"/><polyline points="368.8,150.4 376.0,147.0 383.5,147.5 390.3,146.6 398.7,146.2 406.2,147.0 421.0,148.0 436.0,148.0 451.0,147.5 466.5,147.0 481.4,145.8" fill="none" stroke="#d0922e" stroke-width="1.0" stroke-linejoin="round"/><rect x="375.0" y="146.0" width="2.0" height="2.0" fill="#d0922e"/><rect x="382.5" y="146.5" width="2.0" height="2.0" fill="#d0922e"/><rect x="389.3" y="145.6" width="2.0" height="2.0" fill="#d0922e"/><rect x="397.7" y="145.2" width="2.0" height="2.0" fill="#d0922e"/><rect x="405.2" y="146.0" width="2.0" height="2.0" fill="#d0922e"/><rect x="420.0" y="147.0" width="2.0" height="2.0" fill="#d0922e"/><rect x="435.0" y="147.0" width="2.0" height="2.0" fill="#d0922e"/><rect x="450.0" y="146.5" width="2.0" height="2.0" fill="#d0922e"/><rect x="465.5" y="146.0" width="2.0" height="2.0" fill="#d0922e"/><rect x="480.4" y="144.8" width="2.0" height="2.0" fill="#d0922e"/><polyline points="368.8,150.4 376.0,146.0 382.8,143.8 390.3,143.8 398.7,132.6 406.2,147.5 413.9,147.9 420.4,147.9 428.6,147.9 435.8,147.9 451.0,147.9 466.5,147.9 481.4,147.6" fill="none" stroke="#d0922e" stroke-width="1.0" stroke-linejoin="round"/><circle cx="376.0" cy="146.0" r="1.3" fill="#fff" stroke="#d0922e" stroke-width="0.7"/><circle cx="382.8" cy="143.8" r="1.3" fill="#fff" stroke="#d0922e" stroke-width="0.7"/><circle cx="390.3" cy="143.8" r="1.3" fill="#fff" stroke="#d0922e" stroke-width="0.7"/><circle cx="398.7" cy="132.6" r="1.3" fill="#fff" stroke="#d0922e" stroke-width="0.7"/><circle cx="406.2" cy="147.5" r="1.3" fill="#fff" stroke="#d0922e" stroke-width="0.7"/><circle cx="413.9" cy="147.9" r="1.3" fill="#fff" stroke="#d0922e" stroke-width="0.7"/><circle cx="420.4" cy="147.9" r="1.3" fill="#fff" stroke="#d0922e" stroke-width="0.7"/><circle cx="428.6" cy="147.9" r="1.3" fill="#fff" stroke="#d0922e" stroke-width="0.7"/><circle cx="435.8" cy="147.9" r="1.3" fill="#fff" stroke="#d0922e" stroke-width="0.7"/><circle cx="451.0" cy="147.9" r="1.3" fill="#fff" stroke="#d0922e" stroke-width="0.7"/><circle cx="466.5" cy="147.9" r="1.3" fill="#fff" stroke="#d0922e" stroke-width="0.7"/><circle cx="481.4" cy="147.6" r="1.3" fill="#fff" stroke="#d0922e" stroke-width="0.7"/><rect x="397.3" y="131.2" width="2.8" height="2.8" fill="#d0922e"/><polyline points="368.8,150.4 376.0,146.0 383.5,141.0 391.0,130.0 398.7,104.6 406.2,110.2 413.7,101.0 421.5,99.8 428.6,73.2 435.8,77.3 446.6,72.6" fill="none" stroke="#d4a050" stroke-width="0.9" stroke-linejoin="round"/><rect x="375.0" y="145.0" width="2.0" height="2.0" fill="#d4a050"/><rect x="382.5" y="140.0" width="2.0" height="2.0" fill="#d4a050"/><rect x="390.0" y="129.0" width="2.0" height="2.0" fill="#d4a050"/><rect x="397.7" y="103.6" width="2.0" height="2.0" fill="#d4a050"/><rect x="405.2" y="109.2" width="2.0" height="2.0" fill="#d4a050"/><rect x="412.7" y="100.0" width="2.0" height="2.0" fill="#d4a050"/><rect x="420.5" y="98.8" width="2.0" height="2.0" fill="#d4a050"/><rect x="427.6" y="72.2" width="2.0" height="2.0" fill="#d4a050"/><rect x="434.8" y="76.3" width="2.0" height="2.0" fill="#d4a050"/><rect x="445.6" y="71.6" width="2.0" height="2.0" fill="#d4a050"/><polyline points="368.8,150.4 376.0,146.0 383.5,142.0 390.3,135.4 398.7,117.7 406.0,98.8 413.9,92.7 421.5,108.0 428.6,133.2 435.8,134.6 451.0,136.6 466.5,140.7 481.4,142.8" fill="none" stroke="#d0922e" stroke-width="1.0" stroke-linejoin="round"/><rect x="374.7" y="144.7" width="2.6" height="2.6" fill="#d0922e"/><rect x="382.2" y="140.7" width="2.6" height="2.6" fill="#d0922e"/><rect x="389.0" y="134.1" width="2.6" height="2.6" fill="#d0922e"/><rect x="397.4" y="116.4" width="2.6" height="2.6" fill="#d0922e"/><rect x="404.7" y="97.5" width="2.6" height="2.6" fill="#d0922e"/><rect x="412.6" y="91.4" width="2.6" height="2.6" fill="#d0922e"/><rect x="420.2" y="106.7" width="2.6" height="2.6" fill="#d0922e"/><rect x="427.3" y="131.9" width="2.6" height="2.6" fill="#d0922e"/><rect x="434.5" y="133.3" width="2.6" height="2.6" fill="#d0922e"/><rect x="449.7" y="135.3" width="2.6" height="2.6" fill="#d0922e"/><rect x="465.2" y="139.4" width="2.6" height="2.6" fill="#d0922e"/><rect x="480.1" y="141.5" width="2.6" height="2.6" fill="#d0922e"/><polyline points="376.5,142.5 384.0,129.5 391.5,113.0 398.5,94.0 404.0,89.0" fill="none" stroke="#34448a" stroke-width="1.1" stroke-linejoin="round"/><polyline points="376.0,142.0 383.5,127.5 391.0,111.0 398.5,91.5 406.0,84.5 410.0,86.5" fill="none" stroke="#1a2870" stroke-width="1.1" stroke-linejoin="round"/><circle cx="383.5" cy="127.5" r="1.1" fill="#1a2870"/><circle cx="391.0" cy="111.0" r="1.1" fill="#1a2870"/><circle cx="398.5" cy="91.5" r="1.1" fill="#1a2870"/><circle cx="406.0" cy="84.5" r="1.1" fill="#1a2870"/><circle cx="410.0" cy="86.5" r="1.1" fill="#1a2870"/><polyline points="376.0,141.0 383.5,126.0 391.0,109.0 398.5,89.5 406.0,82.5 413.7,75.5" fill="none" stroke="#1a2466" stroke-width="1.2" stroke-linejoin="round"/><circle cx="383.5" cy="126.0" r="1.2" fill="#1a2466"/><circle cx="391.0" cy="109.0" r="1.2" fill="#1a2466"/><circle cx="398.5" cy="89.5" r="1.2" fill="#1a2466"/><circle cx="406.0" cy="82.5" r="1.2" fill="#1a2466"/><circle cx="413.7" cy="75.5" r="1.2" fill="#1a2466"/><path d="M413.7,73.7 L415.3,76.6 L412.1,76.6 Z" fill="#1a2466"/><line x1="456.5" y1="33.8" x2="469.5" y2="33.8" stroke="#3a3f80" stroke-width="0.8"/><path d="M463.0,32.4 L464.1,34.199999999999996 L461.9,34.199999999999996 Z" fill="#3a3f80"/><text x="471.3" y="36.4" font-size="7.6" text-anchor="start" fill="#1e1e1e" stroke="#1e1e1e" stroke-width="0.12" >NSG control</text><line x1="456.5" y1="45" x2="469.5" y2="45" stroke="#c4c4cc" stroke-width="0.8"/><path d="M463.0,43.6 L464.1,45.4 L461.9,45.4 Z" fill="#c4c4cc"/><text x="471.3" y="47.6" font-size="7.6" text-anchor="start" fill="#1e1e1e" stroke="#1e1e1e" stroke-width="0.12" >Vehicle</text><line x1="456.5" y1="56.3" x2="469.5" y2="56.3" stroke="#d8b070" stroke-width="0.8"/><path d="M463.0,54.9 L464.1,56.699999999999996 L461.9,56.699999999999996 Z" fill="#d8b070"/><text x="471.3" y="58.9" font-size="7.6" text-anchor="start" fill="#1e1e1e" stroke="#1e1e1e" stroke-width="0.12" transform="translate(471.3 0) scale(0.9 1) translate(-471.3 0)" >rhIL-7-hyFc</text><line x1="369" y1="204.5" x2="369" y2="285.2" stroke="#111" stroke-width="1.3"/><line x1="368.4" y1="285.2" x2="491" y2="285.2" stroke="#111" stroke-width="1.3"/><line x1="366" y1="285.2" x2="369" y2="285.2" stroke="#111" stroke-width="0.9"/><text x="364.2" y="288.09999999999997" font-size="8" text-anchor="end" fill="#1e1e1e" stroke="#1e1e1e" stroke-width="0.15" >0</text><line x1="366" y1="248.85" x2="369" y2="248.85" stroke="#111" stroke-width="0.9"/><text x="364.2" y="251.75" font-size="8" text-anchor="end" fill="#1e1e1e" stroke="#1e1e1e" stroke-width="0.15" >50</text><line x1="366" y1="212.5" x2="369" y2="212.5" stroke="#111" stroke-width="0.9"/><text x="364.2" y="215.4" font-size="8" text-anchor="end" fill="#1e1e1e" stroke="#1e1e1e" stroke-width="0.15" >100</text><line x1="369.0" y1="285.2" x2="369.0" y2="288" stroke="#111" stroke-width="0.9"/><text x="369.0" y="296.6" font-size="8" text-anchor="middle" fill="#1e1e1e" stroke="#1e1e1e" stroke-width="0.15" >0</text><line x1="409.4" y1="285.2" x2="409.4" y2="288" stroke="#111" stroke-width="0.9"/><text x="409.4" y="296.6" font-size="8" text-anchor="middle" fill="#1e1e1e" stroke="#1e1e1e" stroke-width="0.15" >50</text><line x1="449.8" y1="285.2" x2="449.8" y2="288" stroke="#111" stroke-width="0.9"/><text x="449.8" y="296.6" font-size="8" text-anchor="middle" fill="#1e1e1e" stroke="#1e1e1e" stroke-width="0.15" >100</text><line x1="490.2" y1="285.2" x2="490.2" y2="288" stroke="#111" stroke-width="0.9"/><text x="490.2" y="296.6" font-size="8" text-anchor="middle" fill="#1e1e1e" stroke="#1e1e1e" stroke-width="0.15" >150</text><text x="430.5" y="306.8" font-size="9" text-anchor="middle" fill="#1e1e1e" stroke="#1e1e1e" stroke-width="0.3" transform="translate(430.5 0) scale(0.76 1) translate(-430.5 0)" >Time (days)</text><text x="0" y="0" font-size="9" text-anchor="middle" fill="#1e1e1e" stroke="#1e1e1e" stroke-width="0.3" transform="translate(343.4 245) rotate(-90) scale(0.76 1)" >% Survival</text><path d="M369.0,212.5 L411.0,212.5 L411.0,236.5 L422.3,236.5 L422.3,261.3 L456.6,261.3 L456.6,285.0" fill="none" stroke="#c0c0c0" stroke-width="1.1"/><path d="M411.0,212.5 L442.3,212.5 L442.3,248.6 L460.0,248.6 L460.0,267.0 L481.3,267.0 L481.3,285.0" fill="none" stroke="#d49028" stroke-width="1.1"/><path d="M369.0,212.5 L400.0,212.5 L400.0,227.0 L403.4,227.0 L403.4,256.0 L414.0,256.0 L414.0,285.0" fill="none" stroke="#3a4878" stroke-width="1.1"/><text x="450" y="238.5" font-size="8.2" text-anchor="start" fill="#1e1e1e" stroke="#1e1e1e" stroke-width="0.1" ><tspan font-style="italic">P</tspan> = .006</text><line x1="458.5" y1="193" x2="469.5" y2="193" stroke="#3a4880" stroke-width="0.9"/><line x1="464.0" y1="191.5" x2="464.0" y2="193" stroke="#3a4880" stroke-width="0.8"/><text x="471.3" y="195.7" font-size="7.6" text-anchor="start" fill="#1e1e1e" stroke="#1e1e1e" stroke-width="0.12" >NSG control</text><line x1="458.5" y1="203.5" x2="469.5" y2="203.5" stroke="#c0c0c0" stroke-width="0.9"/><line x1="464.0" y1="202.0" x2="464.0" y2="203.5" stroke="#c0c0c0" stroke-width="0.8"/><text x="471.3" y="206.2" font-size="7.6" text-anchor="start" fill="#1e1e1e" stroke="#1e1e1e" stroke-width="0.12" >Vehicle</text><line x1="458.5" y1="215" x2="469.5" y2="215" stroke="#d49028" stroke-width="0.9"/><line x1="464.0" y1="213.5" x2="464.0" y2="215" stroke="#d49028" stroke-width="0.8"/><text x="471.3" y="217.7" font-size="7.6" text-anchor="start" fill="#1e1e1e" stroke="#1e1e1e" stroke-width="0.12" >rhIL-7-hyFc</text><line x1="368.6" y1="342.3" x2="368.6" y2="421.8" stroke="#111" stroke-width="1.3"/><line x1="368" y1="421.8" x2="483.5" y2="421.8" stroke="#111" stroke-width="1.3"/><polyline points="369.0,421.8 379.1,421.8 389.2,421.8 399.3,421.8 409.4,421.8 419.5,421.8 429.6,421.8 439.7,421.8 449.8,421.8 459.9,421.8 470.0,421.8 480.1,421.8" fill="none" stroke="#b8b8c0" stroke-width="1.1" stroke-linejoin="round"/><circle cx="369.0" cy="421.8" r="1.2" fill="#b4b4b4"/><circle cx="379.1" cy="421.8" r="1.2" fill="#b4b4b4"/><circle cx="389.2" cy="421.8" r="1.2" fill="#b4b4b4"/><circle cx="399.3" cy="421.8" r="1.2" fill="#b4b4b4"/><circle cx="409.4" cy="421.8" r="1.2" fill="#b4b4b4"/><circle cx="419.5" cy="421.8" r="1.2" fill="#b4b4b4"/><circle cx="429.6" cy="421.8" r="1.2" fill="#b4b4b4"/><circle cx="439.7" cy="421.8" r="1.2" fill="#b4b4b4"/><circle cx="449.8" cy="421.8" r="1.2" fill="#b4b4b4"/><circle cx="459.9" cy="421.8" r="1.2" fill="#b4b4b4"/><circle cx="470.0" cy="421.8" r="1.2" fill="#b4b4b4"/><circle cx="480.1" cy="421.8" r="1.2" fill="#b4b4b4"/><line x1="366" y1="421.8" x2="368.6" y2="421.8" stroke="#111" stroke-width="0.9"/><text x="364" y="424.7" font-size="8" text-anchor="end" fill="#1e1e1e" stroke="#1e1e1e" stroke-width="0.15" >0</text><line x1="366" y1="408.12" x2="368.6" y2="408.12" stroke="#111" stroke-width="0.9"/><text x="364" y="411.02" font-size="8" text-anchor="end" fill="#1e1e1e" stroke="#1e1e1e" stroke-width="0.15" >100</text><line x1="366" y1="394.44" x2="368.6" y2="394.44" stroke="#111" stroke-width="0.9"/><text x="364" y="397.34" font-size="8" text-anchor="end" fill="#1e1e1e" stroke="#1e1e1e" stroke-width="0.15" >200</text><line x1="366" y1="380.76" x2="368.6" y2="380.76" stroke="#111" stroke-width="0.9"/><text x="364" y="383.65999999999997" font-size="8" text-anchor="end" fill="#1e1e1e" stroke="#1e1e1e" stroke-width="0.15" >300</text><line x1="366" y1="367.08000000000004" x2="368.6" y2="367.08000000000004" stroke="#111" stroke-width="0.9"/><text x="364" y="369.98" font-size="8" text-anchor="end" fill="#1e1e1e" stroke="#1e1e1e" stroke-width="0.15" >400</text><line x1="366" y1="353.4" x2="368.6" y2="353.4" stroke="#111" stroke-width="0.9"/><text x="364" y="356.29999999999995" font-size="8" text-anchor="end" fill="#1e1e1e" stroke="#1e1e1e" stroke-width="0.15" >500</text><line x1="369.0" y1="421.8" x2="369.0" y2="424.3" stroke="#111" stroke-width="0.9"/><text x="369.0" y="434.5" font-size="8" text-anchor="middle" fill="#1e1e1e" stroke="#1e1e1e" stroke-width="0.15" >0</text><line x1="379.1" y1="421.8" x2="379.1" y2="424.3" stroke="#111" stroke-width="0.9"/><text x="379.1" y="434.5" font-size="8" text-anchor="middle" fill="#1e1e1e" stroke="#1e1e1e" stroke-width="0.15" >1</text><line x1="389.2" y1="421.8" x2="389.2" y2="424.3" stroke="#111" stroke-width="0.9"/><text x="389.2" y="434.5" font-size="8" text-anchor="middle" fill="#1e1e1e" stroke="#1e1e1e" stroke-width="0.15" >2</text><line x1="399.3" y1="421.8" x2="399.3" y2="424.3" stroke="#111" stroke-width="0.9"/><text x="399.3" y="434.5" font-size="8" text-anchor="middle" fill="#1e1e1e" stroke="#1e1e1e" stroke-width="0.15" >3</text><line x1="409.4" y1="421.8" x2="409.4" y2="424.3" stroke="#111" stroke-width="0.9"/><text x="409.4" y="434.5" font-size="8" text-anchor="middle" fill="#1e1e1e" stroke="#1e1e1e" stroke-width="0.15" >4</text><line x1="419.5" y1="421.8" x2="419.5" y2="424.3" stroke="#111" stroke-width="0.9"/><text x="419.5" y="434.5" font-size="8" text-anchor="middle" fill="#1e1e1e" stroke="#1e1e1e" stroke-width="0.15" >5</text><line x1="429.6" y1="421.8" x2="429.6" y2="424.3" stroke="#111" stroke-width="0.9"/><text x="429.6" y="434.5" font-size="8" text-anchor="middle" fill="#1e1e1e" stroke="#1e1e1e" stroke-width="0.15" >6</text><line x1="439.7" y1="421.8" x2="439.7" y2="424.3" stroke="#111" stroke-width="0.9"/><text x="439.7" y="434.5" font-size="8" text-anchor="middle" fill="#1e1e1e" stroke="#1e1e1e" stroke-width="0.15" >7</text><line x1="449.8" y1="421.8" x2="449.8" y2="424.3" stroke="#111" stroke-width="0.9"/><text x="449.8" y="434.5" font-size="8" text-anchor="middle" fill="#1e1e1e" stroke="#1e1e1e" stroke-width="0.15" >8</text><line x1="459.9" y1="421.8" x2="459.9" y2="424.3" stroke="#111" stroke-width="0.9"/><text x="459.9" y="434.5" font-size="8" text-anchor="middle" fill="#1e1e1e" stroke="#1e1e1e" stroke-width="0.15" >9</text><line x1="470.0" y1="421.8" x2="470.0" y2="424.3" stroke="#111" stroke-width="0.9"/><text x="470.0" y="434.5" font-size="8" text-anchor="middle" fill="#1e1e1e" stroke="#1e1e1e" stroke-width="0.15" >10</text><line x1="480.1" y1="421.8" x2="480.1" y2="424.3" stroke="#111" stroke-width="0.9"/><text x="480.1" y="434.5" font-size="8" text-anchor="middle" fill="#1e1e1e" stroke="#1e1e1e" stroke-width="0.15" >11</text><text x="426" y="443.6" font-size="9" text-anchor="middle" fill="#1e1e1e" stroke="#1e1e1e" stroke-width="0.3" transform="translate(426 0) scale(0.76 1) translate(-426 0)" >Time (weeks)</text><text x="0" y="0" font-size="8.6" text-anchor="middle" fill="#1e1e1e" stroke="#1e1e1e" stroke-width="0.3" transform="translate(343.6 381.5) rotate(-90) scale(0.76 1)" >CAR-iNKT/µl blood</text><polyline points="369.0,421.8 379.1,421.8 389.2,421.1 399.3,414.3 409.4,418.4 419.5,357.5 429.6,400.6 449.8,414.3 459.9,419.1 470.0,421.8 480.1,421.8" fill="none" stroke="#cf8a22" stroke-width="1.3" stroke-linejoin="round"/><circle cx="379.1" cy="421.8" r="1.6" fill="#cf8a22"/><circle cx="389.2" cy="421.1" r="1.6" fill="#cf8a22"/><circle cx="399.3" cy="414.3" r="1.6" fill="#cf8a22"/><circle cx="409.4" cy="418.4" r="1.6" fill="#cf8a22"/><circle cx="419.5" cy="357.5" r="1.6" fill="#cf8a22"/><circle cx="429.6" cy="400.6" r="1.6" fill="#cf8a22"/><circle cx="449.8" cy="414.3" r="1.6" fill="#cf8a22"/><circle cx="459.9" cy="419.1" r="1.6" fill="#cf8a22"/><circle cx="470.0" cy="421.8" r="1.6" fill="#cf8a22"/><circle cx="480.1" cy="421.8" r="1.6" fill="#cf8a22"/><circle cx="369.0" cy="421.8" r="1.5" fill="#d49028"/><polyline points="424.6,421.8 429.6,418.8 449.8,390.3 459.9,406.8 470.0,421.8 480.1,421.8" fill="none" stroke="#cf8a22" stroke-width="1.3" stroke-linejoin="round"/><circle cx="429.6" cy="418.8" r="1.6" fill="#cf8a22"/><circle cx="449.8" cy="390.3" r="1.6" fill="#cf8a22"/><circle cx="459.9" cy="406.8" r="1.6" fill="#cf8a22"/><circle cx="470.0" cy="421.8" r="1.6" fill="#cf8a22"/><circle cx="480.1" cy="421.8" r="1.6" fill="#cf8a22"/><polyline points="433.6,421.8 449.8,391.0" fill="none" stroke="#d49a3a" stroke-width="1.0" stroke-linejoin="round"/><circle cx="419.5" cy="421.3" r="1.5" fill="#fff" stroke="#d49028" stroke-width="0.8"/><circle cx="429.6" cy="421.3" r="1.5" fill="#fff" stroke="#d49028" stroke-width="0.8"/><line x1="452.5" y1="348.6" x2="465" y2="348.6" stroke="#c4c4cc" stroke-width="0.9"/><circle cx="458.7" cy="348.6" r="1.1" fill="#c4c4cc"/><text x="467" y="351.3" font-size="7.4" text-anchor="start" fill="#1e1e1e" stroke="#1e1e1e" stroke-width="0.1" >Vehicle</text><line x1="452.5" y1="360" x2="465" y2="360" stroke="#d49028" stroke-width="1"/><circle cx="458.7" cy="360" r="1.4" fill="#d49028"/><text x="468" y="362.7" font-size="7.4" text-anchor="start" fill="#1e1e1e" stroke="#1e1e1e" stroke-width="0.1" transform="translate(468 0) scale(0.92 1) translate(-468 0)" >rhIL-7-hyFc</text></svg>
<div class="frame"></div><div style="position:absolute;left:0;top:453px;width:520px;height:1px;background:#9a9a9a"></div>
</body></html>
